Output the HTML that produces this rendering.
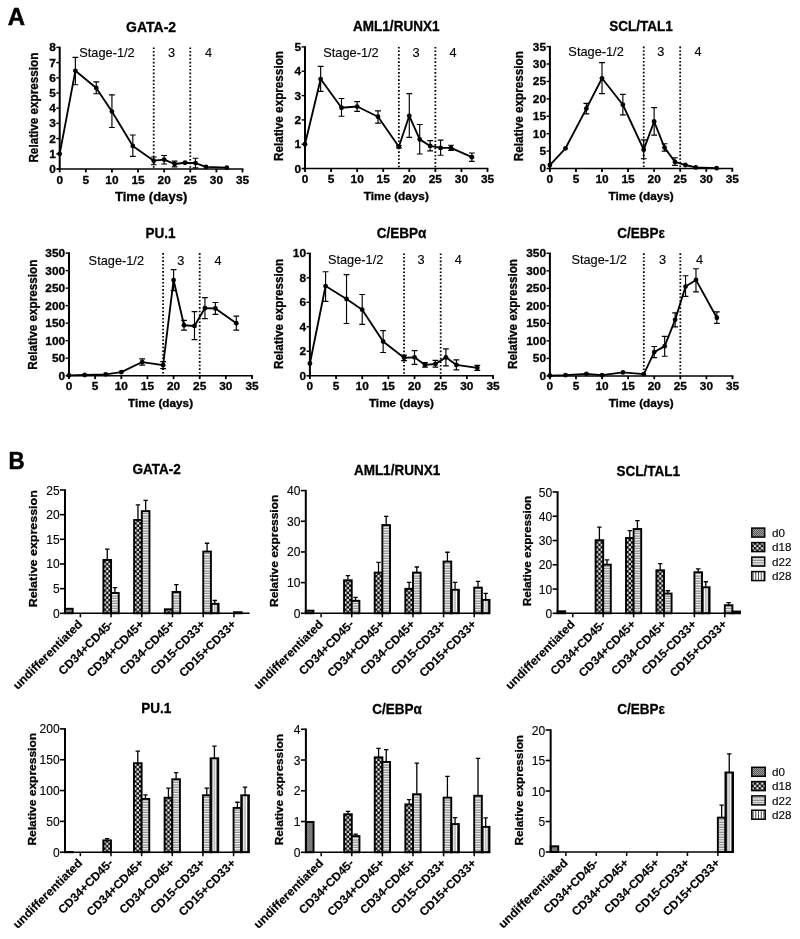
<!DOCTYPE html>
<html><head><meta charset="utf-8"><title>Figure</title>
<style>html,body{margin:0;padding:0;background:#fff}svg{display:block;will-change:transform;opacity:0.999}text{font-family:"Liberation Sans",sans-serif;fill:#000}</style>
</head><body>
<svg width="800" height="939" viewBox="0 0 800 939">
<defs>
<pattern id="p0" width="2" height="2" patternUnits="userSpaceOnUse"><rect width="2" height="2" fill="#9c9c9c"/><rect width="1" height="1" fill="#5a5a5a"/><rect x="1" y="1" width="1" height="1" fill="#5a5a5a"/></pattern>
<pattern id="p18" x="0.2" y="0" width="4.8" height="4.8" patternUnits="userSpaceOnUse"><rect width="4.8" height="4.8" fill="#000"/><rect x="2.5" y="0.1" width="2.2" height="2.2" fill="#fff"/><rect x="0.1" y="2.5" width="2.2" height="2.2" fill="#fff"/></pattern>
<pattern id="p22" width="2.5" height="2.5" patternUnits="userSpaceOnUse"><rect width="2.5" height="2.5" fill="#fff"/><rect y="0" width="2.5" height="0.6" fill="#555"/><rect y="1.5" width="2.5" height="1.0" fill="#c4c4c4"/></pattern>
<pattern id="p28" width="7.68" height="4" patternUnits="userSpaceOnUse"><rect width="7.68" height="4" fill="#fff"/><rect x="0" width="1.7" height="4" fill="#111"/><rect x="5.98" width="1.7" height="4" fill="#111"/><rect x="3.1" width="1.4" height="4" fill="#a8a8a8"/></pattern>
<pattern id="p28L" width="2.6" height="4" patternUnits="userSpaceOnUse"><rect width="2.6" height="4" fill="#fff"/><rect x="0" width="0.9" height="4" fill="#222"/></pattern>
</defs>
<rect width="800" height="939" fill="#fff"/>
<line x1="153.71" y1="47.40" x2="153.71" y2="169.00" stroke="#000" stroke-width="1.8" stroke-dasharray="1.6 2.0"/>
<line x1="190.27" y1="47.40" x2="190.27" y2="169.00" stroke="#000" stroke-width="1.8" stroke-dasharray="1.6 2.0"/>
<line x1="59.70" y1="46.65" x2="59.70" y2="169.75" stroke="#000" stroke-width="2.0"/>
<line x1="57.20" y1="169.00" x2="243.40" y2="169.00" stroke="#000" stroke-width="1.5"/>
<line x1="56.30" y1="169.00" x2="59.70" y2="169.00" stroke="#000" stroke-width="1.4"/>
<text transform="translate(55.80,172.95) scale(1.05,1)" font-size="11.3" font-weight="bold" text-anchor="end"  stroke="#000" stroke-width="0.3">0</text>
<line x1="56.30" y1="153.80" x2="59.70" y2="153.80" stroke="#000" stroke-width="1.4"/>
<text transform="translate(55.80,157.75) scale(1.05,1)" font-size="11.3" font-weight="bold" text-anchor="end"  stroke="#000" stroke-width="0.3">1</text>
<line x1="56.30" y1="138.60" x2="59.70" y2="138.60" stroke="#000" stroke-width="1.4"/>
<text transform="translate(55.80,142.55) scale(1.05,1)" font-size="11.3" font-weight="bold" text-anchor="end"  stroke="#000" stroke-width="0.3">2</text>
<line x1="56.30" y1="123.40" x2="59.70" y2="123.40" stroke="#000" stroke-width="1.4"/>
<text transform="translate(55.80,127.35) scale(1.05,1)" font-size="11.3" font-weight="bold" text-anchor="end"  stroke="#000" stroke-width="0.3">3</text>
<line x1="56.30" y1="108.20" x2="59.70" y2="108.20" stroke="#000" stroke-width="1.4"/>
<text transform="translate(55.80,112.15) scale(1.05,1)" font-size="11.3" font-weight="bold" text-anchor="end"  stroke="#000" stroke-width="0.3">4</text>
<line x1="56.30" y1="93.00" x2="59.70" y2="93.00" stroke="#000" stroke-width="1.4"/>
<text transform="translate(55.80,96.95) scale(1.05,1)" font-size="11.3" font-weight="bold" text-anchor="end"  stroke="#000" stroke-width="0.3">5</text>
<line x1="56.30" y1="77.80" x2="59.70" y2="77.80" stroke="#000" stroke-width="1.4"/>
<text transform="translate(55.80,81.75) scale(1.05,1)" font-size="11.3" font-weight="bold" text-anchor="end"  stroke="#000" stroke-width="0.3">6</text>
<line x1="56.30" y1="62.60" x2="59.70" y2="62.60" stroke="#000" stroke-width="1.4"/>
<text transform="translate(55.80,66.55) scale(1.05,1)" font-size="11.3" font-weight="bold" text-anchor="end"  stroke="#000" stroke-width="0.3">7</text>
<line x1="56.30" y1="47.40" x2="59.70" y2="47.40" stroke="#000" stroke-width="1.4"/>
<text transform="translate(55.80,51.35) scale(1.05,1)" font-size="11.3" font-weight="bold" text-anchor="end"  stroke="#000" stroke-width="0.3">8</text>
<line x1="59.70" y1="169.00" x2="59.70" y2="172.40" stroke="#000" stroke-width="1.8"/>
<text transform="translate(59.70,184.10) scale(1.05,1)" font-size="11.3" font-weight="bold" text-anchor="middle"  stroke="#000" stroke-width="0.3">0</text>
<line x1="85.81" y1="169.00" x2="85.81" y2="172.40" stroke="#000" stroke-width="1.8"/>
<text transform="translate(85.81,184.10) scale(1.05,1)" font-size="11.3" font-weight="bold" text-anchor="middle"  stroke="#000" stroke-width="0.3">5</text>
<line x1="111.93" y1="169.00" x2="111.93" y2="172.40" stroke="#000" stroke-width="1.8"/>
<text transform="translate(111.93,184.10) scale(1.05,1)" font-size="11.3" font-weight="bold" text-anchor="middle"  stroke="#000" stroke-width="0.3">10</text>
<line x1="138.04" y1="169.00" x2="138.04" y2="172.40" stroke="#000" stroke-width="1.8"/>
<text transform="translate(138.04,184.10) scale(1.05,1)" font-size="11.3" font-weight="bold" text-anchor="middle"  stroke="#000" stroke-width="0.3">15</text>
<line x1="164.16" y1="169.00" x2="164.16" y2="172.40" stroke="#000" stroke-width="1.8"/>
<text transform="translate(164.16,184.10) scale(1.05,1)" font-size="11.3" font-weight="bold" text-anchor="middle"  stroke="#000" stroke-width="0.3">20</text>
<line x1="190.27" y1="169.00" x2="190.27" y2="172.40" stroke="#000" stroke-width="1.8"/>
<text transform="translate(190.27,184.10) scale(1.05,1)" font-size="11.3" font-weight="bold" text-anchor="middle"  stroke="#000" stroke-width="0.3">25</text>
<line x1="216.39" y1="169.00" x2="216.39" y2="172.40" stroke="#000" stroke-width="1.8"/>
<text transform="translate(216.39,184.10) scale(1.05,1)" font-size="11.3" font-weight="bold" text-anchor="middle"  stroke="#000" stroke-width="0.3">30</text>
<line x1="242.50" y1="169.00" x2="242.50" y2="172.40" stroke="#000" stroke-width="1.8"/>
<text transform="translate(242.50,184.10) scale(1.05,1)" font-size="11.3" font-weight="bold" text-anchor="middle"  stroke="#000" stroke-width="0.3">35</text>
<text transform="translate(151.10,201.05) scale(1.062,1)" font-size="12.3" font-weight="bold" text-anchor="middle"  stroke="#000" stroke-width="0.3">Time (days)</text>
<text transform="translate(151.10,31.90)" font-size="14.0" font-weight="bold" text-anchor="middle"  stroke="#000" stroke-width="0.3">GATA-2</text>
<text transform="translate(37.70,107.60) rotate(-90) scale(0.985,1)" font-size="11.9" font-weight="bold" text-anchor="middle"  stroke="#000" stroke-width="0.3">Relative expression</text>
<text transform="translate(106.97,57.00) scale(1.04,1)" font-size="12.3"  text-anchor="middle"  stroke="#000" stroke-width="0.12">Stage-1/2</text>
<text transform="translate(171.47,57.00) scale(1.04,1)" font-size="12.3"  text-anchor="middle"  stroke="#000" stroke-width="0.12">3</text>
<text transform="translate(208.55,57.00) scale(1.04,1)" font-size="12.3"  text-anchor="middle"  stroke="#000" stroke-width="0.12">4</text>
<path d="M75.37 84.79V57.43M72.47 84.79h5.8M72.47 57.43h5.8" stroke="#000" stroke-width="1.15" fill="none"/>
<path d="M96.26 93.76V81.90M93.36 93.76h5.8M93.36 81.90h5.8" stroke="#000" stroke-width="1.15" fill="none"/>
<path d="M111.93 127.50V94.82M109.03 127.50h5.8M109.03 94.82h5.8" stroke="#000" stroke-width="1.15" fill="none"/>
<path d="M132.82 156.38V134.95M129.92 156.38h5.8M129.92 134.95h5.8" stroke="#000" stroke-width="1.15" fill="none"/>
<path d="M153.71 164.74V156.99M150.81 164.74h5.8M150.81 156.99h5.8" stroke="#000" stroke-width="1.15" fill="none"/>
<path d="M164.16 163.98V155.47M161.26 163.98h5.8M161.26 155.47h5.8" stroke="#000" stroke-width="1.15" fill="none"/>
<path d="M174.60 166.87V161.10M171.70 166.87h5.8M171.70 161.10h5.8" stroke="#000" stroke-width="1.15" fill="none"/>
<path d="M195.49 167.94V158.21M192.59 167.94h5.8M192.59 158.21h5.8" stroke="#000" stroke-width="1.15" fill="none"/>
<polyline points="59.70,153.80 75.37,70.81 96.26,87.98 111.93,111.54 132.82,145.90 153.71,160.64 164.16,159.58 174.60,163.98 185.05,162.77 195.49,163.07 205.94,166.87 226.83,167.63" fill="none" stroke="#000" stroke-width="1.85" stroke-linejoin="round"/>
<circle cx="59.70" cy="153.80" r="2.4" fill="#000"/>
<circle cx="75.37" cy="70.81" r="2.4" fill="#000"/>
<circle cx="96.26" cy="87.98" r="2.4" fill="#000"/>
<circle cx="111.93" cy="111.54" r="2.4" fill="#000"/>
<circle cx="132.82" cy="145.90" r="2.4" fill="#000"/>
<circle cx="153.71" cy="160.64" r="2.4" fill="#000"/>
<circle cx="164.16" cy="159.58" r="2.4" fill="#000"/>
<circle cx="174.60" cy="163.98" r="2.4" fill="#000"/>
<circle cx="185.05" cy="162.77" r="2.4" fill="#000"/>
<circle cx="195.49" cy="163.07" r="2.4" fill="#000"/>
<circle cx="205.94" cy="166.87" r="2.4" fill="#000"/>
<circle cx="226.83" cy="167.63" r="2.4" fill="#000"/>
<line x1="398.86" y1="46.90" x2="398.86" y2="168.60" stroke="#000" stroke-width="1.8" stroke-dasharray="1.6 2.0"/>
<line x1="435.36" y1="46.90" x2="435.36" y2="168.60" stroke="#000" stroke-width="1.8" stroke-dasharray="1.6 2.0"/>
<line x1="305.00" y1="46.15" x2="305.00" y2="169.35" stroke="#000" stroke-width="2.0"/>
<line x1="302.50" y1="168.60" x2="488.40" y2="168.60" stroke="#000" stroke-width="1.5"/>
<line x1="301.60" y1="168.60" x2="305.00" y2="168.60" stroke="#000" stroke-width="1.4"/>
<text transform="translate(301.10,172.55) scale(1.05,1)" font-size="11.3" font-weight="bold" text-anchor="end"  stroke="#000" stroke-width="0.3">0</text>
<line x1="301.60" y1="144.26" x2="305.00" y2="144.26" stroke="#000" stroke-width="1.4"/>
<text transform="translate(301.10,148.21) scale(1.05,1)" font-size="11.3" font-weight="bold" text-anchor="end"  stroke="#000" stroke-width="0.3">1</text>
<line x1="301.60" y1="119.92" x2="305.00" y2="119.92" stroke="#000" stroke-width="1.4"/>
<text transform="translate(301.10,123.87) scale(1.05,1)" font-size="11.3" font-weight="bold" text-anchor="end"  stroke="#000" stroke-width="0.3">2</text>
<line x1="301.60" y1="95.58" x2="305.00" y2="95.58" stroke="#000" stroke-width="1.4"/>
<text transform="translate(301.10,99.53) scale(1.05,1)" font-size="11.3" font-weight="bold" text-anchor="end"  stroke="#000" stroke-width="0.3">3</text>
<line x1="301.60" y1="71.24" x2="305.00" y2="71.24" stroke="#000" stroke-width="1.4"/>
<text transform="translate(301.10,75.19) scale(1.05,1)" font-size="11.3" font-weight="bold" text-anchor="end"  stroke="#000" stroke-width="0.3">4</text>
<line x1="301.60" y1="46.90" x2="305.00" y2="46.90" stroke="#000" stroke-width="1.4"/>
<text transform="translate(301.10,50.85) scale(1.05,1)" font-size="11.3" font-weight="bold" text-anchor="end"  stroke="#000" stroke-width="0.3">5</text>
<line x1="305.00" y1="168.60" x2="305.00" y2="172.00" stroke="#000" stroke-width="1.8"/>
<text transform="translate(305.00,182.90) scale(1.05,1)" font-size="11.3" font-weight="bold" text-anchor="middle"  stroke="#000" stroke-width="0.3">0</text>
<line x1="331.07" y1="168.60" x2="331.07" y2="172.00" stroke="#000" stroke-width="1.8"/>
<text transform="translate(331.07,182.90) scale(1.05,1)" font-size="11.3" font-weight="bold" text-anchor="middle"  stroke="#000" stroke-width="0.3">5</text>
<line x1="357.14" y1="168.60" x2="357.14" y2="172.00" stroke="#000" stroke-width="1.8"/>
<text transform="translate(357.14,182.90) scale(1.05,1)" font-size="11.3" font-weight="bold" text-anchor="middle"  stroke="#000" stroke-width="0.3">10</text>
<line x1="383.21" y1="168.60" x2="383.21" y2="172.00" stroke="#000" stroke-width="1.8"/>
<text transform="translate(383.21,182.90) scale(1.05,1)" font-size="11.3" font-weight="bold" text-anchor="middle"  stroke="#000" stroke-width="0.3">15</text>
<line x1="409.29" y1="168.60" x2="409.29" y2="172.00" stroke="#000" stroke-width="1.8"/>
<text transform="translate(409.29,182.90) scale(1.05,1)" font-size="11.3" font-weight="bold" text-anchor="middle"  stroke="#000" stroke-width="0.3">20</text>
<line x1="435.36" y1="168.60" x2="435.36" y2="172.00" stroke="#000" stroke-width="1.8"/>
<text transform="translate(435.36,182.90) scale(1.05,1)" font-size="11.3" font-weight="bold" text-anchor="middle"  stroke="#000" stroke-width="0.3">25</text>
<line x1="461.43" y1="168.60" x2="461.43" y2="172.00" stroke="#000" stroke-width="1.8"/>
<text transform="translate(461.43,182.90) scale(1.05,1)" font-size="11.3" font-weight="bold" text-anchor="middle"  stroke="#000" stroke-width="0.3">30</text>
<line x1="487.50" y1="168.60" x2="487.50" y2="172.00" stroke="#000" stroke-width="1.8"/>
<text transform="translate(487.50,182.90) scale(1.05,1)" font-size="11.3" font-weight="bold" text-anchor="middle"  stroke="#000" stroke-width="0.3">35</text>
<text transform="translate(396.25,199.80) scale(1.08,1)" font-size="10.9" font-weight="bold" text-anchor="middle"  stroke="#000" stroke-width="0.3">Time (days)</text>
<text transform="translate(396.25,31.40) scale(0.965,1)" font-size="14.0" font-weight="bold" text-anchor="middle"  stroke="#000" stroke-width="0.3">AML1/RUNX1</text>
<text transform="translate(283.00,106.05) rotate(-90) scale(0.985,1)" font-size="11.9" font-weight="bold" text-anchor="middle"  stroke="#000" stroke-width="0.3">Relative expression</text>
<text transform="translate(350.99,56.70) scale(1.04,1)" font-size="12.3"  text-anchor="middle"  stroke="#000" stroke-width="0.12">Stage-1/2</text>
<text transform="translate(415.99,56.70) scale(1.04,1)" font-size="12.3"  text-anchor="middle"  stroke="#000" stroke-width="0.12">3</text>
<text transform="translate(453.01,56.70) scale(1.04,1)" font-size="12.3"  text-anchor="middle"  stroke="#000" stroke-width="0.12">4</text>
<path d="M320.64 91.44V66.37M317.74 91.44h5.8M317.74 66.37h5.8" stroke="#000" stroke-width="1.15" fill="none"/>
<path d="M341.50 116.27V98.50M338.60 116.27h5.8M338.60 98.50h5.8" stroke="#000" stroke-width="1.15" fill="none"/>
<path d="M357.14 111.40V101.67M354.24 111.40h5.8M354.24 101.67h5.8" stroke="#000" stroke-width="1.15" fill="none"/>
<path d="M378.00 123.08V110.91M375.10 123.08h5.8M375.10 110.91h5.8" stroke="#000" stroke-width="1.15" fill="none"/>
<path d="M398.86 147.91V145.48M395.96 147.91h5.8M395.96 145.48h5.8" stroke="#000" stroke-width="1.15" fill="none"/>
<path d="M409.29 137.44V93.63M406.39 137.44h5.8M406.39 93.63h5.8" stroke="#000" stroke-width="1.15" fill="none"/>
<path d="M419.71 154.00V124.54M416.81 154.00h5.8M416.81 124.54h5.8" stroke="#000" stroke-width="1.15" fill="none"/>
<path d="M430.14 150.83V140.61M427.24 150.83h5.8M427.24 140.61h5.8" stroke="#000" stroke-width="1.15" fill="none"/>
<path d="M440.57 155.21V140.12M437.67 155.21h5.8M437.67 140.12h5.8" stroke="#000" stroke-width="1.15" fill="none"/>
<path d="M451.00 150.34V145.23M448.10 150.34h5.8M448.10 145.23h5.8" stroke="#000" stroke-width="1.15" fill="none"/>
<path d="M471.86 161.30V153.02M468.96 161.30h5.8M468.96 153.02h5.8" stroke="#000" stroke-width="1.15" fill="none"/>
<polyline points="305.00,144.26 320.64,79.03 341.50,107.75 357.14,106.53 378.00,116.76 398.86,146.69 409.29,115.78 419.71,139.39 430.14,145.96 440.57,147.91 451.00,147.91 471.86,157.16" fill="none" stroke="#000" stroke-width="1.85" stroke-linejoin="round"/>
<circle cx="305.00" cy="144.26" r="2.4" fill="#000"/>
<circle cx="320.64" cy="79.03" r="2.4" fill="#000"/>
<circle cx="341.50" cy="107.75" r="2.4" fill="#000"/>
<circle cx="357.14" cy="106.53" r="2.4" fill="#000"/>
<circle cx="378.00" cy="116.76" r="2.4" fill="#000"/>
<circle cx="398.86" cy="146.69" r="2.4" fill="#000"/>
<circle cx="409.29" cy="115.78" r="2.4" fill="#000"/>
<circle cx="419.71" cy="139.39" r="2.4" fill="#000"/>
<circle cx="430.14" cy="145.96" r="2.4" fill="#000"/>
<circle cx="440.57" cy="147.91" r="2.4" fill="#000"/>
<circle cx="451.00" cy="147.91" r="2.4" fill="#000"/>
<circle cx="471.86" cy="157.16" r="2.4" fill="#000"/>
<line x1="643.71" y1="46.60" x2="643.71" y2="168.50" stroke="#000" stroke-width="1.8" stroke-dasharray="1.6 2.0"/>
<line x1="680.19" y1="46.60" x2="680.19" y2="168.50" stroke="#000" stroke-width="1.8" stroke-dasharray="1.6 2.0"/>
<line x1="549.90" y1="45.85" x2="549.90" y2="169.25" stroke="#000" stroke-width="2.0"/>
<line x1="547.40" y1="168.50" x2="733.20" y2="168.50" stroke="#000" stroke-width="1.5"/>
<line x1="546.50" y1="168.50" x2="549.90" y2="168.50" stroke="#000" stroke-width="1.4"/>
<text transform="translate(546.00,172.45) scale(1.05,1)" font-size="11.3" font-weight="bold" text-anchor="end"  stroke="#000" stroke-width="0.3">0</text>
<line x1="546.50" y1="151.09" x2="549.90" y2="151.09" stroke="#000" stroke-width="1.4"/>
<text transform="translate(546.00,155.04) scale(1.05,1)" font-size="11.3" font-weight="bold" text-anchor="end"  stroke="#000" stroke-width="0.3">5</text>
<line x1="546.50" y1="133.67" x2="549.90" y2="133.67" stroke="#000" stroke-width="1.4"/>
<text transform="translate(546.00,137.62) scale(1.05,1)" font-size="11.3" font-weight="bold" text-anchor="end"  stroke="#000" stroke-width="0.3">10</text>
<line x1="546.50" y1="116.26" x2="549.90" y2="116.26" stroke="#000" stroke-width="1.4"/>
<text transform="translate(546.00,120.21) scale(1.05,1)" font-size="11.3" font-weight="bold" text-anchor="end"  stroke="#000" stroke-width="0.3">15</text>
<line x1="546.50" y1="98.84" x2="549.90" y2="98.84" stroke="#000" stroke-width="1.4"/>
<text transform="translate(546.00,102.79) scale(1.05,1)" font-size="11.3" font-weight="bold" text-anchor="end"  stroke="#000" stroke-width="0.3">20</text>
<line x1="546.50" y1="81.43" x2="549.90" y2="81.43" stroke="#000" stroke-width="1.4"/>
<text transform="translate(546.00,85.38) scale(1.05,1)" font-size="11.3" font-weight="bold" text-anchor="end"  stroke="#000" stroke-width="0.3">25</text>
<line x1="546.50" y1="64.01" x2="549.90" y2="64.01" stroke="#000" stroke-width="1.4"/>
<text transform="translate(546.00,67.96) scale(1.05,1)" font-size="11.3" font-weight="bold" text-anchor="end"  stroke="#000" stroke-width="0.3">30</text>
<line x1="546.50" y1="46.60" x2="549.90" y2="46.60" stroke="#000" stroke-width="1.4"/>
<text transform="translate(546.00,50.55) scale(1.05,1)" font-size="11.3" font-weight="bold" text-anchor="end"  stroke="#000" stroke-width="0.3">35</text>
<line x1="549.90" y1="168.50" x2="549.90" y2="171.90" stroke="#000" stroke-width="1.8"/>
<text transform="translate(549.90,182.80) scale(1.05,1)" font-size="11.3" font-weight="bold" text-anchor="middle"  stroke="#000" stroke-width="0.3">0</text>
<line x1="575.96" y1="168.50" x2="575.96" y2="171.90" stroke="#000" stroke-width="1.8"/>
<text transform="translate(575.96,182.80) scale(1.05,1)" font-size="11.3" font-weight="bold" text-anchor="middle"  stroke="#000" stroke-width="0.3">5</text>
<line x1="602.01" y1="168.50" x2="602.01" y2="171.90" stroke="#000" stroke-width="1.8"/>
<text transform="translate(602.01,182.80) scale(1.05,1)" font-size="11.3" font-weight="bold" text-anchor="middle"  stroke="#000" stroke-width="0.3">10</text>
<line x1="628.07" y1="168.50" x2="628.07" y2="171.90" stroke="#000" stroke-width="1.8"/>
<text transform="translate(628.07,182.80) scale(1.05,1)" font-size="11.3" font-weight="bold" text-anchor="middle"  stroke="#000" stroke-width="0.3">15</text>
<line x1="654.13" y1="168.50" x2="654.13" y2="171.90" stroke="#000" stroke-width="1.8"/>
<text transform="translate(654.13,182.80) scale(1.05,1)" font-size="11.3" font-weight="bold" text-anchor="middle"  stroke="#000" stroke-width="0.3">20</text>
<line x1="680.19" y1="168.50" x2="680.19" y2="171.90" stroke="#000" stroke-width="1.8"/>
<text transform="translate(680.19,182.80) scale(1.05,1)" font-size="11.3" font-weight="bold" text-anchor="middle"  stroke="#000" stroke-width="0.3">25</text>
<line x1="706.24" y1="168.50" x2="706.24" y2="171.90" stroke="#000" stroke-width="1.8"/>
<text transform="translate(706.24,182.80) scale(1.05,1)" font-size="11.3" font-weight="bold" text-anchor="middle"  stroke="#000" stroke-width="0.3">30</text>
<line x1="732.30" y1="168.50" x2="732.30" y2="171.90" stroke="#000" stroke-width="1.8"/>
<text transform="translate(732.30,182.80) scale(1.05,1)" font-size="11.3" font-weight="bold" text-anchor="middle"  stroke="#000" stroke-width="0.3">35</text>
<text transform="translate(641.10,199.70) scale(1.08,1)" font-size="10.9" font-weight="bold" text-anchor="middle"  stroke="#000" stroke-width="0.3">Time (days)</text>
<text transform="translate(641.10,31.10) scale(0.965,1)" font-size="14.0" font-weight="bold" text-anchor="middle"  stroke="#000" stroke-width="0.3">SCL/TAL1</text>
<text transform="translate(522.70,106.15) rotate(-90) scale(0.985,1)" font-size="11.9" font-weight="bold" text-anchor="middle"  stroke="#000" stroke-width="0.3">Relative expression</text>
<text transform="translate(596.06,56.20) scale(1.04,1)" font-size="12.3"  text-anchor="middle"  stroke="#000" stroke-width="0.12">Stage-1/2</text>
<text transform="translate(660.92,56.20) scale(1.04,1)" font-size="12.3"  text-anchor="middle"  stroke="#000" stroke-width="0.12">3</text>
<text transform="translate(697.93,56.20) scale(1.04,1)" font-size="12.3"  text-anchor="middle"  stroke="#000" stroke-width="0.12">4</text>
<path d="M586.38 113.82V103.37M583.48 113.82h5.8M583.48 103.37h5.8" stroke="#000" stroke-width="1.15" fill="none"/>
<path d="M602.01 93.62V62.62M599.11 93.62h5.8M599.11 62.62h5.8" stroke="#000" stroke-width="1.15" fill="none"/>
<path d="M622.86 114.86V94.32M619.96 114.86h5.8M619.96 94.32h5.8" stroke="#000" stroke-width="1.15" fill="none"/>
<path d="M643.71 158.75V139.94M640.81 158.75h5.8M640.81 139.94h5.8" stroke="#000" stroke-width="1.15" fill="none"/>
<path d="M654.13 135.06V107.55M651.23 135.06h5.8M651.23 107.55h5.8" stroke="#000" stroke-width="1.15" fill="none"/>
<path d="M664.55 151.09V143.77M661.65 151.09h5.8M661.65 143.77h5.8" stroke="#000" stroke-width="1.15" fill="none"/>
<path d="M674.97 165.37V157.70M672.07 165.37h5.8M672.07 157.70h5.8" stroke="#000" stroke-width="1.15" fill="none"/>
<polyline points="549.90,165.02 565.53,148.30 586.38,108.59 602.01,78.29 622.86,104.76 643.71,149.69 654.13,121.48 664.55,147.60 674.97,161.88 685.40,165.02 695.82,167.46 716.67,168.15" fill="none" stroke="#000" stroke-width="1.85" stroke-linejoin="round"/>
<circle cx="549.90" cy="165.02" r="2.4" fill="#000"/>
<circle cx="565.53" cy="148.30" r="2.4" fill="#000"/>
<circle cx="586.38" cy="108.59" r="2.4" fill="#000"/>
<circle cx="602.01" cy="78.29" r="2.4" fill="#000"/>
<circle cx="622.86" cy="104.76" r="2.4" fill="#000"/>
<circle cx="643.71" cy="149.69" r="2.4" fill="#000"/>
<circle cx="654.13" cy="121.48" r="2.4" fill="#000"/>
<circle cx="664.55" cy="147.60" r="2.4" fill="#000"/>
<circle cx="674.97" cy="161.88" r="2.4" fill="#000"/>
<circle cx="685.40" cy="165.02" r="2.4" fill="#000"/>
<circle cx="695.82" cy="167.46" r="2.4" fill="#000"/>
<circle cx="716.67" cy="168.15" r="2.4" fill="#000"/>
<line x1="163.11" y1="253.10" x2="163.11" y2="375.70" stroke="#000" stroke-width="1.8" stroke-dasharray="1.6 2.0"/>
<line x1="199.71" y1="253.10" x2="199.71" y2="375.70" stroke="#000" stroke-width="1.8" stroke-dasharray="1.6 2.0"/>
<line x1="69.00" y1="252.35" x2="69.00" y2="376.45" stroke="#000" stroke-width="2.0"/>
<line x1="66.50" y1="375.70" x2="252.90" y2="375.70" stroke="#000" stroke-width="1.5"/>
<line x1="65.60" y1="375.70" x2="69.00" y2="375.70" stroke="#000" stroke-width="1.4"/>
<text transform="translate(65.10,379.65) scale(1.05,1)" font-size="11.3" font-weight="bold" text-anchor="end"  stroke="#000" stroke-width="0.3">0</text>
<line x1="65.60" y1="358.19" x2="69.00" y2="358.19" stroke="#000" stroke-width="1.4"/>
<text transform="translate(65.10,362.14) scale(1.05,1)" font-size="11.3" font-weight="bold" text-anchor="end"  stroke="#000" stroke-width="0.3">50</text>
<line x1="65.60" y1="340.67" x2="69.00" y2="340.67" stroke="#000" stroke-width="1.4"/>
<text transform="translate(65.10,344.62) scale(1.05,1)" font-size="11.3" font-weight="bold" text-anchor="end"  stroke="#000" stroke-width="0.3">100</text>
<line x1="65.60" y1="323.16" x2="69.00" y2="323.16" stroke="#000" stroke-width="1.4"/>
<text transform="translate(65.10,327.11) scale(1.05,1)" font-size="11.3" font-weight="bold" text-anchor="end"  stroke="#000" stroke-width="0.3">150</text>
<line x1="65.60" y1="305.64" x2="69.00" y2="305.64" stroke="#000" stroke-width="1.4"/>
<text transform="translate(65.10,309.59) scale(1.05,1)" font-size="11.3" font-weight="bold" text-anchor="end"  stroke="#000" stroke-width="0.3">200</text>
<line x1="65.60" y1="288.13" x2="69.00" y2="288.13" stroke="#000" stroke-width="1.4"/>
<text transform="translate(65.10,292.08) scale(1.05,1)" font-size="11.3" font-weight="bold" text-anchor="end"  stroke="#000" stroke-width="0.3">250</text>
<line x1="65.60" y1="270.61" x2="69.00" y2="270.61" stroke="#000" stroke-width="1.4"/>
<text transform="translate(65.10,274.56) scale(1.05,1)" font-size="11.3" font-weight="bold" text-anchor="end"  stroke="#000" stroke-width="0.3">300</text>
<line x1="65.60" y1="253.10" x2="69.00" y2="253.10" stroke="#000" stroke-width="1.4"/>
<text transform="translate(65.10,257.05) scale(1.05,1)" font-size="11.3" font-weight="bold" text-anchor="end"  stroke="#000" stroke-width="0.3">350</text>
<line x1="69.00" y1="375.70" x2="69.00" y2="379.10" stroke="#000" stroke-width="1.8"/>
<text transform="translate(69.00,390.00) scale(1.05,1)" font-size="11.3" font-weight="bold" text-anchor="middle"  stroke="#000" stroke-width="0.3">0</text>
<line x1="95.14" y1="375.70" x2="95.14" y2="379.10" stroke="#000" stroke-width="1.8"/>
<text transform="translate(95.14,390.00) scale(1.05,1)" font-size="11.3" font-weight="bold" text-anchor="middle"  stroke="#000" stroke-width="0.3">5</text>
<line x1="121.29" y1="375.70" x2="121.29" y2="379.10" stroke="#000" stroke-width="1.8"/>
<text transform="translate(121.29,390.00) scale(1.05,1)" font-size="11.3" font-weight="bold" text-anchor="middle"  stroke="#000" stroke-width="0.3">10</text>
<line x1="147.43" y1="375.70" x2="147.43" y2="379.10" stroke="#000" stroke-width="1.8"/>
<text transform="translate(147.43,390.00) scale(1.05,1)" font-size="11.3" font-weight="bold" text-anchor="middle"  stroke="#000" stroke-width="0.3">15</text>
<line x1="173.57" y1="375.70" x2="173.57" y2="379.10" stroke="#000" stroke-width="1.8"/>
<text transform="translate(173.57,390.00) scale(1.05,1)" font-size="11.3" font-weight="bold" text-anchor="middle"  stroke="#000" stroke-width="0.3">20</text>
<line x1="199.71" y1="375.70" x2="199.71" y2="379.10" stroke="#000" stroke-width="1.8"/>
<text transform="translate(199.71,390.00) scale(1.05,1)" font-size="11.3" font-weight="bold" text-anchor="middle"  stroke="#000" stroke-width="0.3">25</text>
<line x1="225.86" y1="375.70" x2="225.86" y2="379.10" stroke="#000" stroke-width="1.8"/>
<text transform="translate(225.86,390.00) scale(1.05,1)" font-size="11.3" font-weight="bold" text-anchor="middle"  stroke="#000" stroke-width="0.3">30</text>
<line x1="252.00" y1="375.70" x2="252.00" y2="379.10" stroke="#000" stroke-width="1.8"/>
<text transform="translate(252.00,390.00) scale(1.05,1)" font-size="11.3" font-weight="bold" text-anchor="middle"  stroke="#000" stroke-width="0.3">35</text>
<text transform="translate(160.50,406.90) scale(1.08,1)" font-size="10.9" font-weight="bold" text-anchor="middle"  stroke="#000" stroke-width="0.3">Time (days)</text>
<text transform="translate(160.50,237.60) scale(0.965,1)" font-size="14.0" font-weight="bold" text-anchor="middle"  stroke="#000" stroke-width="0.3">PU.1</text>
<text transform="translate(37.30,314.70) rotate(-90) scale(0.985,1)" font-size="11.9" font-weight="bold" text-anchor="middle"  stroke="#000" stroke-width="0.3">Relative expression</text>
<text transform="translate(116.32,265.20) scale(1.04,1)" font-size="12.3"  text-anchor="middle"  stroke="#000" stroke-width="0.12">Stage-1/2</text>
<text transform="translate(180.89,265.20) scale(1.04,1)" font-size="12.3"  text-anchor="middle"  stroke="#000" stroke-width="0.12">3</text>
<text transform="translate(218.01,265.20) scale(1.04,1)" font-size="12.3"  text-anchor="middle"  stroke="#000" stroke-width="0.12">4</text>
<path d="M142.20 365.19V358.89M139.30 365.19h5.8M139.30 358.89h5.8" stroke="#000" stroke-width="1.15" fill="none"/>
<path d="M163.11 368.69V361.69M160.21 368.69h5.8M160.21 361.69h5.8" stroke="#000" stroke-width="1.15" fill="none"/>
<path d="M173.57 290.58V269.56M170.67 290.58h5.8M170.67 269.56h5.8" stroke="#000" stroke-width="1.15" fill="none"/>
<path d="M184.03 330.16V320.35M181.13 330.16h5.8M181.13 320.35h5.8" stroke="#000" stroke-width="1.15" fill="none"/>
<path d="M194.49 339.62V311.60M191.59 339.62h5.8M191.59 311.60h5.8" stroke="#000" stroke-width="1.15" fill="none"/>
<path d="M204.94 318.60V297.59M202.04 318.60h5.8M202.04 297.59h5.8" stroke="#000" stroke-width="1.15" fill="none"/>
<path d="M215.40 314.40V302.49M212.50 314.40h5.8M212.50 302.49h5.8" stroke="#000" stroke-width="1.15" fill="none"/>
<path d="M236.31 330.16V316.15M233.41 330.16h5.8M233.41 316.15h5.8" stroke="#000" stroke-width="1.15" fill="none"/>
<polyline points="69.00,375.35 84.69,375.00 105.60,374.30 121.29,372.20 142.20,362.04 163.11,365.19 173.57,280.07 184.03,325.26 194.49,325.96 204.94,308.09 215.40,308.45 236.31,323.16" fill="none" stroke="#000" stroke-width="1.85" stroke-linejoin="round"/>
<circle cx="69.00" cy="375.35" r="2.4" fill="#000"/>
<circle cx="84.69" cy="375.00" r="2.4" fill="#000"/>
<circle cx="105.60" cy="374.30" r="2.4" fill="#000"/>
<circle cx="121.29" cy="372.20" r="2.4" fill="#000"/>
<circle cx="142.20" cy="362.04" r="2.4" fill="#000"/>
<circle cx="163.11" cy="365.19" r="2.4" fill="#000"/>
<circle cx="173.57" cy="280.07" r="2.4" fill="#000"/>
<circle cx="184.03" cy="325.26" r="2.4" fill="#000"/>
<circle cx="194.49" cy="325.96" r="2.4" fill="#000"/>
<circle cx="204.94" cy="308.09" r="2.4" fill="#000"/>
<circle cx="215.40" cy="308.45" r="2.4" fill="#000"/>
<circle cx="236.31" cy="323.16" r="2.4" fill="#000"/>
<line x1="404.07" y1="253.40" x2="404.07" y2="375.70" stroke="#000" stroke-width="1.8" stroke-dasharray="1.6 2.0"/>
<line x1="440.69" y1="253.40" x2="440.69" y2="375.70" stroke="#000" stroke-width="1.8" stroke-dasharray="1.6 2.0"/>
<line x1="309.90" y1="252.65" x2="309.90" y2="376.45" stroke="#000" stroke-width="2.0"/>
<line x1="307.40" y1="375.70" x2="493.90" y2="375.70" stroke="#000" stroke-width="1.5"/>
<line x1="306.50" y1="375.70" x2="309.90" y2="375.70" stroke="#000" stroke-width="1.4"/>
<text transform="translate(306.00,379.65) scale(1.05,1)" font-size="11.3" font-weight="bold" text-anchor="end"  stroke="#000" stroke-width="0.3">0</text>
<line x1="306.50" y1="351.24" x2="309.90" y2="351.24" stroke="#000" stroke-width="1.4"/>
<text transform="translate(306.00,355.19) scale(1.05,1)" font-size="11.3" font-weight="bold" text-anchor="end"  stroke="#000" stroke-width="0.3">2</text>
<line x1="306.50" y1="326.78" x2="309.90" y2="326.78" stroke="#000" stroke-width="1.4"/>
<text transform="translate(306.00,330.73) scale(1.05,1)" font-size="11.3" font-weight="bold" text-anchor="end"  stroke="#000" stroke-width="0.3">4</text>
<line x1="306.50" y1="302.32" x2="309.90" y2="302.32" stroke="#000" stroke-width="1.4"/>
<text transform="translate(306.00,306.27) scale(1.05,1)" font-size="11.3" font-weight="bold" text-anchor="end"  stroke="#000" stroke-width="0.3">6</text>
<line x1="306.50" y1="277.86" x2="309.90" y2="277.86" stroke="#000" stroke-width="1.4"/>
<text transform="translate(306.00,281.81) scale(1.05,1)" font-size="11.3" font-weight="bold" text-anchor="end"  stroke="#000" stroke-width="0.3">8</text>
<line x1="306.50" y1="253.40" x2="309.90" y2="253.40" stroke="#000" stroke-width="1.4"/>
<text transform="translate(306.00,257.35) scale(1.05,1)" font-size="11.3" font-weight="bold" text-anchor="end"  stroke="#000" stroke-width="0.3">10</text>
<line x1="309.90" y1="375.70" x2="309.90" y2="379.10" stroke="#000" stroke-width="1.8"/>
<text transform="translate(309.90,390.00) scale(1.05,1)" font-size="11.3" font-weight="bold" text-anchor="middle"  stroke="#000" stroke-width="0.3">0</text>
<line x1="336.06" y1="375.70" x2="336.06" y2="379.10" stroke="#000" stroke-width="1.8"/>
<text transform="translate(336.06,390.00) scale(1.05,1)" font-size="11.3" font-weight="bold" text-anchor="middle"  stroke="#000" stroke-width="0.3">5</text>
<line x1="362.21" y1="375.70" x2="362.21" y2="379.10" stroke="#000" stroke-width="1.8"/>
<text transform="translate(362.21,390.00) scale(1.05,1)" font-size="11.3" font-weight="bold" text-anchor="middle"  stroke="#000" stroke-width="0.3">10</text>
<line x1="388.37" y1="375.70" x2="388.37" y2="379.10" stroke="#000" stroke-width="1.8"/>
<text transform="translate(388.37,390.00) scale(1.05,1)" font-size="11.3" font-weight="bold" text-anchor="middle"  stroke="#000" stroke-width="0.3">15</text>
<line x1="414.53" y1="375.70" x2="414.53" y2="379.10" stroke="#000" stroke-width="1.8"/>
<text transform="translate(414.53,390.00) scale(1.05,1)" font-size="11.3" font-weight="bold" text-anchor="middle"  stroke="#000" stroke-width="0.3">20</text>
<line x1="440.69" y1="375.70" x2="440.69" y2="379.10" stroke="#000" stroke-width="1.8"/>
<text transform="translate(440.69,390.00) scale(1.05,1)" font-size="11.3" font-weight="bold" text-anchor="middle"  stroke="#000" stroke-width="0.3">25</text>
<line x1="466.84" y1="375.70" x2="466.84" y2="379.10" stroke="#000" stroke-width="1.8"/>
<text transform="translate(466.84,390.00) scale(1.05,1)" font-size="11.3" font-weight="bold" text-anchor="middle"  stroke="#000" stroke-width="0.3">30</text>
<line x1="493.00" y1="375.70" x2="493.00" y2="379.10" stroke="#000" stroke-width="1.8"/>
<text transform="translate(493.00,390.00) scale(1.05,1)" font-size="11.3" font-weight="bold" text-anchor="middle"  stroke="#000" stroke-width="0.3">35</text>
<text transform="translate(401.45,406.90) scale(1.08,1)" font-size="10.9" font-weight="bold" text-anchor="middle"  stroke="#000" stroke-width="0.3">Time (days)</text>
<text transform="translate(401.45,237.90) scale(0.965,1)" font-size="14.0" font-weight="bold" text-anchor="middle"  stroke="#000" stroke-width="0.3">C/EBPα</text>
<text transform="translate(282.70,313.95) rotate(-90) scale(0.985,1)" font-size="11.9" font-weight="bold" text-anchor="middle"  stroke="#000" stroke-width="0.3">Relative expression</text>
<text transform="translate(355.64,264.40) scale(1.04,1)" font-size="12.3"  text-anchor="middle"  stroke="#000" stroke-width="0.12">Stage-1/2</text>
<text transform="translate(421.05,264.40) scale(1.04,1)" font-size="12.3"  text-anchor="middle"  stroke="#000" stroke-width="0.12">3</text>
<text transform="translate(458.20,264.40) scale(1.04,1)" font-size="12.3"  text-anchor="middle"  stroke="#000" stroke-width="0.12">4</text>
<path d="M325.59 301.34V271.75M322.69 301.34h5.8M322.69 271.75h5.8" stroke="#000" stroke-width="1.15" fill="none"/>
<path d="M346.52 323.48V274.56M343.62 323.48h5.8M343.62 274.56h5.8" stroke="#000" stroke-width="1.15" fill="none"/>
<path d="M362.21 324.33V294.49M359.31 324.33h5.8M359.31 294.49h5.8" stroke="#000" stroke-width="1.15" fill="none"/>
<path d="M383.14 352.46V330.69M380.24 352.46h5.8M380.24 330.69h5.8" stroke="#000" stroke-width="1.15" fill="none"/>
<path d="M404.07 360.66V355.15M401.17 360.66h5.8M401.17 355.15h5.8" stroke="#000" stroke-width="1.15" fill="none"/>
<path d="M414.53 364.33V350.63M411.63 364.33h5.8M411.63 350.63h5.8" stroke="#000" stroke-width="1.15" fill="none"/>
<path d="M424.99 367.14V362.61M422.09 367.14h5.8M422.09 362.61h5.8" stroke="#000" stroke-width="1.15" fill="none"/>
<path d="M435.45 367.14V360.41M432.55 367.14h5.8M432.55 360.41h5.8" stroke="#000" stroke-width="1.15" fill="none"/>
<path d="M445.92 365.92V348.92M443.02 365.92h5.8M443.02 348.92h5.8" stroke="#000" stroke-width="1.15" fill="none"/>
<path d="M456.38 369.83V359.80M453.48 369.83h5.8M453.48 359.80h5.8" stroke="#000" stroke-width="1.15" fill="none"/>
<path d="M477.31 370.44V365.30M474.41 370.44h5.8M474.41 365.30h5.8" stroke="#000" stroke-width="1.15" fill="none"/>
<polyline points="309.90,363.47 325.59,286.05 346.52,299.02 362.21,309.66 383.14,341.46 404.07,357.72 414.53,357.36 424.99,364.94 435.45,363.96 445.92,357.36 456.38,364.94 477.31,367.87" fill="none" stroke="#000" stroke-width="1.85" stroke-linejoin="round"/>
<circle cx="309.90" cy="363.47" r="2.4" fill="#000"/>
<circle cx="325.59" cy="286.05" r="2.4" fill="#000"/>
<circle cx="346.52" cy="299.02" r="2.4" fill="#000"/>
<circle cx="362.21" cy="309.66" r="2.4" fill="#000"/>
<circle cx="383.14" cy="341.46" r="2.4" fill="#000"/>
<circle cx="404.07" cy="357.72" r="2.4" fill="#000"/>
<circle cx="414.53" cy="357.36" r="2.4" fill="#000"/>
<circle cx="424.99" cy="364.94" r="2.4" fill="#000"/>
<circle cx="435.45" cy="363.96" r="2.4" fill="#000"/>
<circle cx="445.92" cy="357.36" r="2.4" fill="#000"/>
<circle cx="456.38" cy="364.94" r="2.4" fill="#000"/>
<circle cx="477.31" cy="367.87" r="2.4" fill="#000"/>
<line x1="643.81" y1="253.30" x2="643.81" y2="375.90" stroke="#000" stroke-width="1.8" stroke-dasharray="1.6 2.0"/>
<line x1="680.33" y1="253.30" x2="680.33" y2="375.90" stroke="#000" stroke-width="1.8" stroke-dasharray="1.6 2.0"/>
<line x1="549.90" y1="252.55" x2="549.90" y2="376.65" stroke="#000" stroke-width="2.0"/>
<line x1="547.40" y1="375.90" x2="733.40" y2="375.90" stroke="#000" stroke-width="1.5"/>
<line x1="546.50" y1="375.90" x2="549.90" y2="375.90" stroke="#000" stroke-width="1.4"/>
<text transform="translate(546.00,379.85) scale(1.05,1)" font-size="11.3" font-weight="bold" text-anchor="end"  stroke="#000" stroke-width="0.3">0</text>
<line x1="546.50" y1="358.39" x2="549.90" y2="358.39" stroke="#000" stroke-width="1.4"/>
<text transform="translate(546.00,362.34) scale(1.05,1)" font-size="11.3" font-weight="bold" text-anchor="end"  stroke="#000" stroke-width="0.3">50</text>
<line x1="546.50" y1="340.87" x2="549.90" y2="340.87" stroke="#000" stroke-width="1.4"/>
<text transform="translate(546.00,344.82) scale(1.05,1)" font-size="11.3" font-weight="bold" text-anchor="end"  stroke="#000" stroke-width="0.3">100</text>
<line x1="546.50" y1="323.36" x2="549.90" y2="323.36" stroke="#000" stroke-width="1.4"/>
<text transform="translate(546.00,327.31) scale(1.05,1)" font-size="11.3" font-weight="bold" text-anchor="end"  stroke="#000" stroke-width="0.3">150</text>
<line x1="546.50" y1="305.84" x2="549.90" y2="305.84" stroke="#000" stroke-width="1.4"/>
<text transform="translate(546.00,309.79) scale(1.05,1)" font-size="11.3" font-weight="bold" text-anchor="end"  stroke="#000" stroke-width="0.3">200</text>
<line x1="546.50" y1="288.33" x2="549.90" y2="288.33" stroke="#000" stroke-width="1.4"/>
<text transform="translate(546.00,292.28) scale(1.05,1)" font-size="11.3" font-weight="bold" text-anchor="end"  stroke="#000" stroke-width="0.3">250</text>
<line x1="546.50" y1="270.81" x2="549.90" y2="270.81" stroke="#000" stroke-width="1.4"/>
<text transform="translate(546.00,274.76) scale(1.05,1)" font-size="11.3" font-weight="bold" text-anchor="end"  stroke="#000" stroke-width="0.3">300</text>
<line x1="546.50" y1="253.30" x2="549.90" y2="253.30" stroke="#000" stroke-width="1.4"/>
<text transform="translate(546.00,257.25) scale(1.05,1)" font-size="11.3" font-weight="bold" text-anchor="end"  stroke="#000" stroke-width="0.3">350</text>
<line x1="549.90" y1="375.90" x2="549.90" y2="379.30" stroke="#000" stroke-width="1.8"/>
<text transform="translate(549.90,390.20) scale(1.05,1)" font-size="11.3" font-weight="bold" text-anchor="middle"  stroke="#000" stroke-width="0.3">0</text>
<line x1="575.99" y1="375.90" x2="575.99" y2="379.30" stroke="#000" stroke-width="1.8"/>
<text transform="translate(575.99,390.20) scale(1.05,1)" font-size="11.3" font-weight="bold" text-anchor="middle"  stroke="#000" stroke-width="0.3">5</text>
<line x1="602.07" y1="375.90" x2="602.07" y2="379.30" stroke="#000" stroke-width="1.8"/>
<text transform="translate(602.07,390.20) scale(1.05,1)" font-size="11.3" font-weight="bold" text-anchor="middle"  stroke="#000" stroke-width="0.3">10</text>
<line x1="628.16" y1="375.90" x2="628.16" y2="379.30" stroke="#000" stroke-width="1.8"/>
<text transform="translate(628.16,390.20) scale(1.05,1)" font-size="11.3" font-weight="bold" text-anchor="middle"  stroke="#000" stroke-width="0.3">15</text>
<line x1="654.24" y1="375.90" x2="654.24" y2="379.30" stroke="#000" stroke-width="1.8"/>
<text transform="translate(654.24,390.20) scale(1.05,1)" font-size="11.3" font-weight="bold" text-anchor="middle"  stroke="#000" stroke-width="0.3">20</text>
<line x1="680.33" y1="375.90" x2="680.33" y2="379.30" stroke="#000" stroke-width="1.8"/>
<text transform="translate(680.33,390.20) scale(1.05,1)" font-size="11.3" font-weight="bold" text-anchor="middle"  stroke="#000" stroke-width="0.3">25</text>
<line x1="706.41" y1="375.90" x2="706.41" y2="379.30" stroke="#000" stroke-width="1.8"/>
<text transform="translate(706.41,390.20) scale(1.05,1)" font-size="11.3" font-weight="bold" text-anchor="middle"  stroke="#000" stroke-width="0.3">30</text>
<line x1="732.50" y1="375.90" x2="732.50" y2="379.30" stroke="#000" stroke-width="1.8"/>
<text transform="translate(732.50,390.20) scale(1.05,1)" font-size="11.3" font-weight="bold" text-anchor="middle"  stroke="#000" stroke-width="0.3">35</text>
<text transform="translate(641.20,407.10) scale(1.08,1)" font-size="10.9" font-weight="bold" text-anchor="middle"  stroke="#000" stroke-width="0.3">Time (days)</text>
<text transform="translate(641.20,237.80) scale(0.965,1)" font-size="14.0" font-weight="bold" text-anchor="middle"  stroke="#000" stroke-width="0.3">C/EBPε</text>
<text transform="translate(517.20,314.00) rotate(-90) scale(0.985,1)" font-size="11.9" font-weight="bold" text-anchor="middle"  stroke="#000" stroke-width="0.3">Relative expression</text>
<text transform="translate(599.12,264.30) scale(1.04,1)" font-size="12.3"  text-anchor="middle"  stroke="#000" stroke-width="0.12">Stage-1/2</text>
<text transform="translate(662.55,264.30) scale(1.04,1)" font-size="12.3"  text-anchor="middle"  stroke="#000" stroke-width="0.12">3</text>
<text transform="translate(699.59,264.30) scale(1.04,1)" font-size="12.3"  text-anchor="middle"  stroke="#000" stroke-width="0.12">4</text>
<path d="M654.24 357.69V346.48M651.34 357.69h5.8M651.34 346.48h5.8" stroke="#000" stroke-width="1.15" fill="none"/>
<path d="M664.68 356.28V336.32M661.78 356.28h5.8M661.78 336.32h5.8" stroke="#000" stroke-width="1.15" fill="none"/>
<path d="M675.11 326.86V312.85M672.21 326.86h5.8M672.21 312.85h5.8" stroke="#000" stroke-width="1.15" fill="none"/>
<path d="M685.55 296.39V275.72M682.65 296.39h5.8M682.65 275.72h5.8" stroke="#000" stroke-width="1.15" fill="none"/>
<path d="M695.98 291.83V268.71M693.08 291.83h5.8M693.08 268.71h5.8" stroke="#000" stroke-width="1.15" fill="none"/>
<path d="M716.85 323.36V311.80M713.95 323.36h5.8M713.95 311.80h5.8" stroke="#000" stroke-width="1.15" fill="none"/>
<polyline points="549.90,375.55 565.55,375.20 586.42,373.80 602.07,375.20 622.94,372.40 643.81,374.15 654.24,352.08 664.68,346.13 675.11,319.85 685.55,286.58 695.98,279.92 716.85,317.75" fill="none" stroke="#000" stroke-width="1.85" stroke-linejoin="round"/>
<circle cx="549.90" cy="375.55" r="2.4" fill="#000"/>
<circle cx="565.55" cy="375.20" r="2.4" fill="#000"/>
<circle cx="586.42" cy="373.80" r="2.4" fill="#000"/>
<circle cx="602.07" cy="375.20" r="2.4" fill="#000"/>
<circle cx="622.94" cy="372.40" r="2.4" fill="#000"/>
<circle cx="643.81" cy="374.15" r="2.4" fill="#000"/>
<circle cx="654.24" cy="352.08" r="2.4" fill="#000"/>
<circle cx="664.68" cy="346.13" r="2.4" fill="#000"/>
<circle cx="675.11" cy="319.85" r="2.4" fill="#000"/>
<circle cx="685.55" cy="286.58" r="2.4" fill="#000"/>
<circle cx="695.98" cy="279.92" r="2.4" fill="#000"/>
<circle cx="716.85" cy="317.75" r="2.4" fill="#000"/>
<g transform="translate(65.00,613.30)"><rect x="0" y="-4.53" width="7.68" height="4.53" fill="url(#p0)" stroke="#000" stroke-width="1.9"/></g>
<path d="M107.24 559.54V549.18M105.04 549.18h4.4" stroke="#000" stroke-width="1.3" fill="none"/>
<g transform="translate(103.40,613.30)"><rect x="0" y="-53.36" width="7.68" height="53.36" fill="url(#p18)" stroke="#000" stroke-width="1.9"/></g>
<path d="M114.92 592.59V587.65M112.72 587.65h4.4" stroke="#000" stroke-width="1.3" fill="none"/>
<g transform="translate(111.08,613.30)"><rect x="0" y="-20.31" width="7.68" height="20.31" fill="url(#p22)" stroke="#000" stroke-width="1.9"/></g>
<path d="M137.96 519.59V504.80M135.76 504.80h4.4" stroke="#000" stroke-width="1.3" fill="none"/>
<g transform="translate(134.12,613.30)"><rect x="0" y="-93.31" width="7.68" height="93.31" fill="url(#p18)" stroke="#000" stroke-width="1.9"/></g>
<path d="M145.64 510.71V500.36M143.44 500.36h4.4" stroke="#000" stroke-width="1.3" fill="none"/>
<g transform="translate(141.80,613.30)"><rect x="0" y="-102.19" width="7.68" height="102.19" fill="url(#p22)" stroke="#000" stroke-width="1.9"/></g>
<g transform="translate(164.84,613.30)"><rect x="0" y="-4.04" width="7.68" height="4.04" fill="url(#p18)" stroke="#000" stroke-width="1.9"/></g>
<path d="M176.36 591.60V584.69M174.16 584.69h4.4" stroke="#000" stroke-width="1.3" fill="none"/>
<g transform="translate(172.52,613.30)"><rect x="0" y="-21.30" width="7.68" height="21.30" fill="url(#p22)" stroke="#000" stroke-width="1.9"/></g>
<path d="M207.08 551.16V543.27M204.88 543.27h4.4" stroke="#000" stroke-width="1.3" fill="none"/>
<g transform="translate(203.24,613.30)"><rect x="0" y="-61.74" width="7.68" height="61.74" fill="url(#p22)" stroke="#000" stroke-width="1.9"/></g>
<path d="M214.76 603.44V600.48M212.56 600.48h4.4" stroke="#000" stroke-width="1.3" fill="none"/>
<g transform="translate(210.92,613.30)"><rect x="0" y="-9.46" width="7.68" height="9.46" fill="url(#p28)" stroke="#000" stroke-width="1.9"/></g>
<g transform="translate(233.96,613.30)"><rect x="0" y="-1.08" width="7.68" height="1.08" fill="url(#p22)" stroke="#000" stroke-width="1.9"/></g>
<line x1="65.00" y1="489.25" x2="65.00" y2="614.05" stroke="#000" stroke-width="2.0"/>
<line x1="65.00" y1="613.30" x2="249.62" y2="613.30" stroke="#000" stroke-width="1.5"/>
<line x1="60.00" y1="613.30" x2="65.00" y2="613.30" stroke="#000" stroke-width="1.6"/>
<text transform="translate(59.60,617.80) scale(0.95,1)" font-size="12.7"  text-anchor="end"  stroke="#000" stroke-width="0.12">0</text>
<line x1="60.00" y1="588.64" x2="65.00" y2="588.64" stroke="#000" stroke-width="1.6"/>
<text transform="translate(59.60,593.14) scale(0.95,1)" font-size="12.7"  text-anchor="end"  stroke="#000" stroke-width="0.12">5</text>
<line x1="60.00" y1="563.98" x2="65.00" y2="563.98" stroke="#000" stroke-width="1.6"/>
<text transform="translate(59.60,568.48) scale(0.95,1)" font-size="12.7"  text-anchor="end"  stroke="#000" stroke-width="0.12">10</text>
<line x1="60.00" y1="539.32" x2="65.00" y2="539.32" stroke="#000" stroke-width="1.6"/>
<text transform="translate(59.60,543.82) scale(0.95,1)" font-size="12.7"  text-anchor="end"  stroke="#000" stroke-width="0.12">15</text>
<line x1="60.00" y1="514.66" x2="65.00" y2="514.66" stroke="#000" stroke-width="1.6"/>
<text transform="translate(59.60,519.16) scale(0.95,1)" font-size="12.7"  text-anchor="end"  stroke="#000" stroke-width="0.12">20</text>
<line x1="60.00" y1="490.00" x2="65.00" y2="490.00" stroke="#000" stroke-width="1.6"/>
<text transform="translate(59.60,494.50) scale(0.95,1)" font-size="12.7"  text-anchor="end"  stroke="#000" stroke-width="0.12">25</text>
<line x1="80.36" y1="613.30" x2="80.36" y2="617.30" stroke="#000" stroke-width="1.5"/>
<text transform="translate(83.16,624.90) rotate(-45) scale(1.03,1)" font-size="11.9" font-weight="bold" text-anchor="end" stroke="#000" stroke-width="0.15">undifferentiated</text>
<line x1="111.08" y1="613.30" x2="111.08" y2="617.30" stroke="#000" stroke-width="1.5"/>
<text transform="translate(113.88,624.90) rotate(-45) scale(1.00116,1)" font-size="11.9" font-weight="bold" text-anchor="end" stroke="#000" stroke-width="0.15">CD34+CD45-</text>
<line x1="141.80" y1="613.30" x2="141.80" y2="617.30" stroke="#000" stroke-width="1.5"/>
<text transform="translate(144.60,624.90) rotate(-45) scale(1.00116,1)" font-size="11.9" font-weight="bold" text-anchor="end" stroke="#000" stroke-width="0.15">CD34+CD45+</text>
<line x1="172.52" y1="613.30" x2="172.52" y2="617.30" stroke="#000" stroke-width="1.5"/>
<text transform="translate(175.32,624.90) rotate(-45) scale(1.00116,1)" font-size="11.9" font-weight="bold" text-anchor="end" stroke="#000" stroke-width="0.15">CD34-CD45+</text>
<line x1="203.24" y1="613.30" x2="203.24" y2="617.30" stroke="#000" stroke-width="1.5"/>
<text transform="translate(206.04,624.90) rotate(-45) scale(1.00116,1)" font-size="11.9" font-weight="bold" text-anchor="end" stroke="#000" stroke-width="0.15">CD15-CD33+</text>
<line x1="233.96" y1="613.30" x2="233.96" y2="617.30" stroke="#000" stroke-width="1.5"/>
<text transform="translate(236.76,624.90) rotate(-45) scale(1.00116,1)" font-size="11.9" font-weight="bold" text-anchor="end" stroke="#000" stroke-width="0.15">CD15+CD33+</text>
<text transform="translate(156.51,474.30) scale(0.965,1)" font-size="14.0" font-weight="bold" text-anchor="middle"  stroke="#000" stroke-width="0.3">GATA-2</text>
<text transform="translate(36.70,548.75) rotate(-90) scale(1.08,1)" font-size="11.55" font-weight="bold" text-anchor="middle"  stroke="#000" stroke-width="0.3">Relative expression</text>
<g transform="translate(305.80,613.30)"><rect x="0" y="-2.67" width="7.66" height="2.67" fill="url(#p0)" stroke="#000" stroke-width="1.9"/></g>
<path d="M347.90 579.86V575.57M345.70 575.57h4.4" stroke="#000" stroke-width="1.3" fill="none"/>
<g transform="translate(344.07,613.30)"><rect x="0" y="-33.04" width="7.66" height="33.04" fill="url(#p18)" stroke="#000" stroke-width="1.9"/></g>
<path d="M355.56 600.42V597.35M353.36 597.35h4.4" stroke="#000" stroke-width="1.3" fill="none"/>
<g transform="translate(351.73,613.30)"><rect x="0" y="-12.48" width="7.66" height="12.48" fill="url(#p22)" stroke="#000" stroke-width="1.9"/></g>
<path d="M378.52 572.20V562.38M376.32 562.38h4.4" stroke="#000" stroke-width="1.3" fill="none"/>
<g transform="translate(374.69,613.30)"><rect x="0" y="-40.70" width="7.66" height="40.70" fill="url(#p18)" stroke="#000" stroke-width="1.9"/></g>
<path d="M386.18 524.65V516.37M383.98 516.37h4.4" stroke="#000" stroke-width="1.3" fill="none"/>
<g transform="translate(382.35,613.30)"><rect x="0" y="-88.25" width="7.66" height="88.25" fill="url(#p22)" stroke="#000" stroke-width="1.9"/></g>
<path d="M409.14 588.45V582.32M406.94 582.32h4.4" stroke="#000" stroke-width="1.3" fill="none"/>
<g transform="translate(405.31,613.30)"><rect x="0" y="-24.45" width="7.66" height="24.45" fill="url(#p18)" stroke="#000" stroke-width="1.9"/></g>
<path d="M416.80 572.20V566.98M414.60 566.98h4.4" stroke="#000" stroke-width="1.3" fill="none"/>
<g transform="translate(412.97,613.30)"><rect x="0" y="-40.70" width="7.66" height="40.70" fill="url(#p22)" stroke="#000" stroke-width="1.9"/></g>
<path d="M447.42 561.15V552.26M445.22 552.26h4.4" stroke="#000" stroke-width="1.3" fill="none"/>
<g transform="translate(443.59,613.30)"><rect x="0" y="-51.75" width="7.66" height="51.75" fill="url(#p22)" stroke="#000" stroke-width="1.9"/></g>
<path d="M455.07 589.37V582.32M452.87 582.32h4.4" stroke="#000" stroke-width="1.3" fill="none"/>
<g transform="translate(451.25,613.30)"><rect x="0" y="-23.53" width="7.66" height="23.53" fill="url(#p28)" stroke="#000" stroke-width="1.9"/></g>
<path d="M478.04 587.23V581.40M475.84 581.40h4.4" stroke="#000" stroke-width="1.3" fill="none"/>
<g transform="translate(474.21,613.30)"><rect x="0" y="-25.67" width="7.66" height="25.67" fill="url(#p22)" stroke="#000" stroke-width="1.9"/></g>
<path d="M485.69 599.50V593.36M483.49 593.36h4.4" stroke="#000" stroke-width="1.3" fill="none"/>
<g transform="translate(481.86,613.30)"><rect x="0" y="-13.40" width="7.66" height="13.40" fill="url(#p28)" stroke="#000" stroke-width="1.9"/></g>
<line x1="305.80" y1="489.85" x2="305.80" y2="614.05" stroke="#000" stroke-width="2.0"/>
<line x1="305.80" y1="613.30" x2="489.82" y2="613.30" stroke="#000" stroke-width="1.5"/>
<line x1="300.80" y1="613.30" x2="305.80" y2="613.30" stroke="#000" stroke-width="1.6"/>
<text transform="translate(300.40,617.80) scale(0.95,1)" font-size="12.7"  text-anchor="end"  stroke="#000" stroke-width="0.12">0</text>
<line x1="300.80" y1="582.62" x2="305.80" y2="582.62" stroke="#000" stroke-width="1.6"/>
<text transform="translate(300.40,587.12) scale(0.95,1)" font-size="12.7"  text-anchor="end"  stroke="#000" stroke-width="0.12">10</text>
<line x1="300.80" y1="551.95" x2="305.80" y2="551.95" stroke="#000" stroke-width="1.6"/>
<text transform="translate(300.40,556.45) scale(0.95,1)" font-size="12.7"  text-anchor="end"  stroke="#000" stroke-width="0.12">20</text>
<line x1="300.80" y1="521.27" x2="305.80" y2="521.27" stroke="#000" stroke-width="1.6"/>
<text transform="translate(300.40,525.77) scale(0.95,1)" font-size="12.7"  text-anchor="end"  stroke="#000" stroke-width="0.12">30</text>
<line x1="300.80" y1="490.60" x2="305.80" y2="490.60" stroke="#000" stroke-width="1.6"/>
<text transform="translate(300.40,495.10) scale(0.95,1)" font-size="12.7"  text-anchor="end"  stroke="#000" stroke-width="0.12">40</text>
<line x1="321.11" y1="613.30" x2="321.11" y2="617.30" stroke="#000" stroke-width="1.5"/>
<text transform="translate(323.91,624.90) rotate(-45) scale(1.03,1)" font-size="11.9" font-weight="bold" text-anchor="end" stroke="#000" stroke-width="0.15">undifferentiated</text>
<line x1="351.73" y1="613.30" x2="351.73" y2="617.30" stroke="#000" stroke-width="1.5"/>
<text transform="translate(354.53,624.90) rotate(-45) scale(1.00116,1)" font-size="11.9" font-weight="bold" text-anchor="end" stroke="#000" stroke-width="0.15">CD34+CD45-</text>
<line x1="382.35" y1="613.30" x2="382.35" y2="617.30" stroke="#000" stroke-width="1.5"/>
<text transform="translate(385.15,624.90) rotate(-45) scale(1.00116,1)" font-size="11.9" font-weight="bold" text-anchor="end" stroke="#000" stroke-width="0.15">CD34+CD45+</text>
<line x1="412.97" y1="613.30" x2="412.97" y2="617.30" stroke="#000" stroke-width="1.5"/>
<text transform="translate(415.77,624.90) rotate(-45) scale(1.00116,1)" font-size="11.9" font-weight="bold" text-anchor="end" stroke="#000" stroke-width="0.15">CD34-CD45+</text>
<line x1="443.59" y1="613.30" x2="443.59" y2="617.30" stroke="#000" stroke-width="1.5"/>
<text transform="translate(446.39,624.90) rotate(-45) scale(1.00116,1)" font-size="11.9" font-weight="bold" text-anchor="end" stroke="#000" stroke-width="0.15">CD15-CD33+</text>
<line x1="474.21" y1="613.30" x2="474.21" y2="617.30" stroke="#000" stroke-width="1.5"/>
<text transform="translate(477.01,624.90) rotate(-45) scale(1.00116,1)" font-size="11.9" font-weight="bold" text-anchor="end" stroke="#000" stroke-width="0.15">CD15+CD33+</text>
<text transform="translate(397.01,474.90) scale(0.965,1)" font-size="14.0" font-weight="bold" text-anchor="middle"  stroke="#000" stroke-width="0.3">AML1/RUNX1</text>
<text transform="translate(277.50,550.85) rotate(-90) scale(1.035,1)" font-size="11.55" font-weight="bold" text-anchor="middle"  stroke="#000" stroke-width="0.3">Relative expression</text>
<g transform="translate(557.60,613.30)"><rect x="0" y="-2.03" width="7.60" height="2.03" fill="url(#p0)" stroke="#000" stroke-width="1.9"/></g>
<path d="M599.40 539.79V527.18M597.20 527.18h4.4" stroke="#000" stroke-width="1.3" fill="none"/>
<g transform="translate(595.60,613.30)"><rect x="0" y="-73.11" width="7.60" height="73.11" fill="url(#p18)" stroke="#000" stroke-width="1.9"/></g>
<path d="M607.00 564.29V559.93M604.80 559.93h4.4" stroke="#000" stroke-width="1.3" fill="none"/>
<g transform="translate(603.20,613.30)"><rect x="0" y="-48.61" width="7.60" height="48.61" fill="url(#p22)" stroke="#000" stroke-width="1.9"/></g>
<path d="M629.80 537.61V530.57M627.60 530.57h4.4" stroke="#000" stroke-width="1.3" fill="none"/>
<g transform="translate(626.00,613.30)"><rect x="0" y="-75.29" width="7.60" height="75.29" fill="url(#p18)" stroke="#000" stroke-width="1.9"/></g>
<path d="M637.40 528.63V520.63M635.20 520.63h4.4" stroke="#000" stroke-width="1.3" fill="none"/>
<g transform="translate(633.60,613.30)"><rect x="0" y="-84.27" width="7.60" height="84.27" fill="url(#p22)" stroke="#000" stroke-width="1.9"/></g>
<path d="M660.20 569.87V563.57M658.00 563.57h4.4" stroke="#000" stroke-width="1.3" fill="none"/>
<g transform="translate(656.40,613.30)"><rect x="0" y="-43.03" width="7.60" height="43.03" fill="url(#p18)" stroke="#000" stroke-width="1.9"/></g>
<path d="M667.80 593.16V590.74M665.60 590.74h4.4" stroke="#000" stroke-width="1.3" fill="none"/>
<g transform="translate(664.00,613.30)"><rect x="0" y="-19.74" width="7.60" height="19.74" fill="url(#p22)" stroke="#000" stroke-width="1.9"/></g>
<path d="M698.20 571.82V568.90M696.00 568.90h4.4" stroke="#000" stroke-width="1.3" fill="none"/>
<g transform="translate(694.40,613.30)"><rect x="0" y="-41.08" width="7.60" height="41.08" fill="url(#p22)" stroke="#000" stroke-width="1.9"/></g>
<path d="M705.80 586.86V581.76M703.60 581.76h4.4" stroke="#000" stroke-width="1.3" fill="none"/>
<g transform="translate(702.00,613.30)"><rect x="0" y="-26.04" width="7.60" height="26.04" fill="url(#p28)" stroke="#000" stroke-width="1.9"/></g>
<path d="M728.60 604.81V602.63M726.40 602.63h4.4" stroke="#000" stroke-width="1.3" fill="none"/>
<g transform="translate(724.80,613.30)"><rect x="0" y="-8.09" width="7.60" height="8.09" fill="url(#p22)" stroke="#000" stroke-width="1.9"/></g>
<g transform="translate(732.40,613.30)"><rect x="0" y="-1.78" width="7.60" height="1.78" fill="url(#p28)" stroke="#000" stroke-width="1.9"/></g>
<line x1="557.60" y1="491.25" x2="557.60" y2="614.05" stroke="#000" stroke-width="2.0"/>
<line x1="557.60" y1="613.30" x2="740.30" y2="613.30" stroke="#000" stroke-width="1.5"/>
<line x1="552.60" y1="613.30" x2="557.60" y2="613.30" stroke="#000" stroke-width="1.6"/>
<text transform="translate(552.20,617.80) scale(0.95,1)" font-size="12.7"  text-anchor="end"  stroke="#000" stroke-width="0.12">0</text>
<line x1="552.60" y1="589.04" x2="557.60" y2="589.04" stroke="#000" stroke-width="1.6"/>
<text transform="translate(552.20,593.54) scale(0.95,1)" font-size="12.7"  text-anchor="end"  stroke="#000" stroke-width="0.12">10</text>
<line x1="552.60" y1="564.78" x2="557.60" y2="564.78" stroke="#000" stroke-width="1.6"/>
<text transform="translate(552.20,569.28) scale(0.95,1)" font-size="12.7"  text-anchor="end"  stroke="#000" stroke-width="0.12">20</text>
<line x1="552.60" y1="540.52" x2="557.60" y2="540.52" stroke="#000" stroke-width="1.6"/>
<text transform="translate(552.20,545.02) scale(0.95,1)" font-size="12.7"  text-anchor="end"  stroke="#000" stroke-width="0.12">30</text>
<line x1="552.60" y1="516.26" x2="557.60" y2="516.26" stroke="#000" stroke-width="1.6"/>
<text transform="translate(552.20,520.76) scale(0.95,1)" font-size="12.7"  text-anchor="end"  stroke="#000" stroke-width="0.12">40</text>
<line x1="552.60" y1="492.00" x2="557.60" y2="492.00" stroke="#000" stroke-width="1.6"/>
<text transform="translate(552.20,496.50) scale(0.95,1)" font-size="12.7"  text-anchor="end"  stroke="#000" stroke-width="0.12">50</text>
<line x1="572.80" y1="613.30" x2="572.80" y2="617.30" stroke="#000" stroke-width="1.5"/>
<text transform="translate(575.60,624.90) rotate(-45) scale(1.03,1)" font-size="11.9" font-weight="bold" text-anchor="end" stroke="#000" stroke-width="0.15">undifferentiated</text>
<line x1="603.20" y1="613.30" x2="603.20" y2="617.30" stroke="#000" stroke-width="1.5"/>
<text transform="translate(606.00,624.90) rotate(-45) scale(1.00116,1)" font-size="11.9" font-weight="bold" text-anchor="end" stroke="#000" stroke-width="0.15">CD34+CD45-</text>
<line x1="633.60" y1="613.30" x2="633.60" y2="617.30" stroke="#000" stroke-width="1.5"/>
<text transform="translate(636.40,624.90) rotate(-45) scale(1.00116,1)" font-size="11.9" font-weight="bold" text-anchor="end" stroke="#000" stroke-width="0.15">CD34+CD45+</text>
<line x1="664.00" y1="613.30" x2="664.00" y2="617.30" stroke="#000" stroke-width="1.5"/>
<text transform="translate(666.80,624.90) rotate(-45) scale(1.00116,1)" font-size="11.9" font-weight="bold" text-anchor="end" stroke="#000" stroke-width="0.15">CD34-CD45+</text>
<line x1="694.40" y1="613.30" x2="694.40" y2="617.30" stroke="#000" stroke-width="1.5"/>
<text transform="translate(697.20,624.90) rotate(-45) scale(1.00116,1)" font-size="11.9" font-weight="bold" text-anchor="end" stroke="#000" stroke-width="0.15">CD15-CD33+</text>
<line x1="724.80" y1="613.30" x2="724.80" y2="617.30" stroke="#000" stroke-width="1.5"/>
<text transform="translate(727.60,624.90) rotate(-45) scale(1.00116,1)" font-size="11.9" font-weight="bold" text-anchor="end" stroke="#000" stroke-width="0.15">CD15+CD33+</text>
<text transform="translate(648.15,476.30) scale(0.965,1)" font-size="14.0" font-weight="bold" text-anchor="middle"  stroke="#000" stroke-width="0.3">SCL/TAL1</text>
<text transform="translate(530.70,551.05) rotate(-90) scale(1.018,1)" font-size="11.55" font-weight="bold" text-anchor="middle"  stroke="#000" stroke-width="0.3">Relative expression</text>
<g transform="translate(65.00,852.20)"><rect x="0" y="-0.22" width="7.66" height="0.30" fill="url(#p0)" stroke="#000" stroke-width="1.9"/></g>
<path d="M107.14 839.99V838.64M104.94 838.64h4.4" stroke="#000" stroke-width="1.3" fill="none"/>
<g transform="translate(103.31,852.20)"><rect x="0" y="-11.81" width="7.66" height="11.81" fill="url(#p18)" stroke="#000" stroke-width="1.9"/></g>
<path d="M137.79 762.81V751.09M135.59 751.09h4.4" stroke="#000" stroke-width="1.3" fill="none"/>
<g transform="translate(133.96,852.20)"><rect x="0" y="-88.99" width="7.66" height="88.99" fill="url(#p18)" stroke="#000" stroke-width="1.9"/></g>
<path d="M145.46 798.56V794.87M143.26 794.87h4.4" stroke="#000" stroke-width="1.3" fill="none"/>
<g transform="translate(141.62,852.20)"><rect x="0" y="-53.24" width="7.66" height="53.24" fill="url(#p22)" stroke="#000" stroke-width="1.9"/></g>
<path d="M168.44 797.33V788.08M166.24 788.08h4.4" stroke="#000" stroke-width="1.3" fill="none"/>
<g transform="translate(164.61,852.20)"><rect x="0" y="-54.47" width="7.66" height="54.47" fill="url(#p18)" stroke="#000" stroke-width="1.9"/></g>
<path d="M176.11 778.84V772.67M173.91 772.67h4.4" stroke="#000" stroke-width="1.3" fill="none"/>
<g transform="translate(172.27,852.20)"><rect x="0" y="-72.96" width="7.66" height="72.96" fill="url(#p22)" stroke="#000" stroke-width="1.9"/></g>
<path d="M206.76 794.87V788.08M204.56 788.08h4.4" stroke="#000" stroke-width="1.3" fill="none"/>
<g transform="translate(202.92,852.20)"><rect x="0" y="-56.93" width="7.66" height="56.93" fill="url(#p22)" stroke="#000" stroke-width="1.9"/></g>
<path d="M214.42 757.88V746.16M212.22 746.16h4.4" stroke="#000" stroke-width="1.3" fill="none"/>
<g transform="translate(210.59,852.20)"><rect x="0" y="-93.92" width="7.66" height="93.92" fill="url(#p28)" stroke="#000" stroke-width="1.9"/></g>
<path d="M237.41 807.50V802.26M235.21 802.26h4.4" stroke="#000" stroke-width="1.3" fill="none"/>
<g transform="translate(233.57,852.20)"><rect x="0" y="-44.30" width="7.66" height="44.30" fill="url(#p22)" stroke="#000" stroke-width="1.9"/></g>
<path d="M245.07 794.87V787.16M242.87 787.16h4.4" stroke="#000" stroke-width="1.3" fill="none"/>
<g transform="translate(241.24,852.20)"><rect x="0" y="-56.93" width="7.66" height="56.93" fill="url(#p28)" stroke="#000" stroke-width="1.9"/></g>
<line x1="65.00" y1="728.15" x2="65.00" y2="852.95" stroke="#000" stroke-width="2.0"/>
<line x1="65.00" y1="852.20" x2="249.20" y2="852.20" stroke="#000" stroke-width="1.5"/>
<line x1="60.00" y1="852.20" x2="65.00" y2="852.20" stroke="#000" stroke-width="1.6"/>
<text transform="translate(59.60,856.70) scale(0.95,1)" font-size="12.7"  text-anchor="end"  stroke="#000" stroke-width="0.12">0</text>
<line x1="60.00" y1="821.38" x2="65.00" y2="821.38" stroke="#000" stroke-width="1.6"/>
<text transform="translate(59.60,825.88) scale(0.95,1)" font-size="12.7"  text-anchor="end"  stroke="#000" stroke-width="0.12">50</text>
<line x1="60.00" y1="790.55" x2="65.00" y2="790.55" stroke="#000" stroke-width="1.6"/>
<text transform="translate(59.60,795.05) scale(0.95,1)" font-size="12.7"  text-anchor="end"  stroke="#000" stroke-width="0.12">100</text>
<line x1="60.00" y1="759.73" x2="65.00" y2="759.73" stroke="#000" stroke-width="1.6"/>
<text transform="translate(59.60,764.23) scale(0.95,1)" font-size="12.7"  text-anchor="end"  stroke="#000" stroke-width="0.12">150</text>
<line x1="60.00" y1="728.90" x2="65.00" y2="728.90" stroke="#000" stroke-width="1.6"/>
<text transform="translate(59.60,733.40) scale(0.95,1)" font-size="12.7"  text-anchor="end"  stroke="#000" stroke-width="0.12">200</text>
<line x1="80.33" y1="852.20" x2="80.33" y2="856.20" stroke="#000" stroke-width="1.5"/>
<text transform="translate(83.12,863.80) rotate(-45) scale(1.03,1)" font-size="11.9" font-weight="bold" text-anchor="end" stroke="#000" stroke-width="0.15">undifferentiated</text>
<line x1="110.98" y1="852.20" x2="110.98" y2="856.20" stroke="#000" stroke-width="1.5"/>
<text transform="translate(113.78,863.80) rotate(-45) scale(1.00116,1)" font-size="11.9" font-weight="bold" text-anchor="end" stroke="#000" stroke-width="0.15">CD34+CD45-</text>
<line x1="141.62" y1="852.20" x2="141.62" y2="856.20" stroke="#000" stroke-width="1.5"/>
<text transform="translate(144.43,863.80) rotate(-45) scale(1.00116,1)" font-size="11.9" font-weight="bold" text-anchor="end" stroke="#000" stroke-width="0.15">CD34+CD45+</text>
<line x1="172.27" y1="852.20" x2="172.27" y2="856.20" stroke="#000" stroke-width="1.5"/>
<text transform="translate(175.07,863.80) rotate(-45) scale(1.00116,1)" font-size="11.9" font-weight="bold" text-anchor="end" stroke="#000" stroke-width="0.15">CD34-CD45+</text>
<line x1="202.92" y1="852.20" x2="202.92" y2="856.20" stroke="#000" stroke-width="1.5"/>
<text transform="translate(205.72,863.80) rotate(-45) scale(1.00116,1)" font-size="11.9" font-weight="bold" text-anchor="end" stroke="#000" stroke-width="0.15">CD15-CD33+</text>
<line x1="233.57" y1="852.20" x2="233.57" y2="856.20" stroke="#000" stroke-width="1.5"/>
<text transform="translate(236.38,863.80) rotate(-45) scale(1.00116,1)" font-size="11.9" font-weight="bold" text-anchor="end" stroke="#000" stroke-width="0.15">CD15+CD33+</text>
<text transform="translate(156.30,713.20) scale(0.965,1)" font-size="14.0" font-weight="bold" text-anchor="middle"  stroke="#000" stroke-width="0.3">PU.1</text>
<text transform="translate(35.60,789.25) rotate(-90) scale(1.04,1)" font-size="11.55" font-weight="bold" text-anchor="middle"  stroke="#000" stroke-width="0.3">Relative expression</text>
<g transform="translate(305.90,852.30)"><rect x="0" y="-30.36" width="7.65" height="30.36" fill="url(#p0)" stroke="#000" stroke-width="1.9"/></g>
<path d="M347.97 813.85V811.39M345.77 811.39h4.4" stroke="#000" stroke-width="1.3" fill="none"/>
<g transform="translate(344.15,852.30)"><rect x="0" y="-38.05" width="7.65" height="38.05" fill="url(#p18)" stroke="#000" stroke-width="1.9"/></g>
<path d="M355.62 835.69V834.15M353.43 834.15h4.4" stroke="#000" stroke-width="1.3" fill="none"/>
<g transform="translate(351.80,852.30)"><rect x="0" y="-16.21" width="7.65" height="16.21" fill="url(#p22)" stroke="#000" stroke-width="1.9"/></g>
<path d="M378.57 756.94V748.32M376.37 748.32h4.4" stroke="#000" stroke-width="1.3" fill="none"/>
<g transform="translate(374.75,852.30)"><rect x="0" y="-94.96" width="7.65" height="94.96" fill="url(#p18)" stroke="#000" stroke-width="1.9"/></g>
<path d="M386.22 761.55V749.55M384.02 749.55h4.4" stroke="#000" stroke-width="1.3" fill="none"/>
<g transform="translate(382.40,852.30)"><rect x="0" y="-90.35" width="7.65" height="90.35" fill="url(#p22)" stroke="#000" stroke-width="1.9"/></g>
<path d="M409.17 804.00V799.70M406.97 799.70h4.4" stroke="#000" stroke-width="1.3" fill="none"/>
<g transform="translate(405.35,852.30)"><rect x="0" y="-47.90" width="7.65" height="47.90" fill="url(#p18)" stroke="#000" stroke-width="1.9"/></g>
<path d="M416.82 793.85V763.09M414.62 763.09h4.4" stroke="#000" stroke-width="1.3" fill="none"/>
<g transform="translate(413.00,852.30)"><rect x="0" y="-58.05" width="7.65" height="58.05" fill="url(#p22)" stroke="#000" stroke-width="1.9"/></g>
<path d="M447.42 797.24V776.32M445.22 776.32h4.4" stroke="#000" stroke-width="1.3" fill="none"/>
<g transform="translate(443.60,852.30)"><rect x="0" y="-54.66" width="7.65" height="54.66" fill="url(#p22)" stroke="#000" stroke-width="1.9"/></g>
<path d="M455.07 823.69V817.54M452.87 817.54h4.4" stroke="#000" stroke-width="1.3" fill="none"/>
<g transform="translate(451.25,852.30)"><rect x="0" y="-28.21" width="7.65" height="28.21" fill="url(#p28)" stroke="#000" stroke-width="1.9"/></g>
<path d="M478.02 795.39V758.47M475.82 758.47h4.4" stroke="#000" stroke-width="1.3" fill="none"/>
<g transform="translate(474.20,852.30)"><rect x="0" y="-56.51" width="7.65" height="56.51" fill="url(#p22)" stroke="#000" stroke-width="1.9"/></g>
<path d="M485.67 826.46V817.85M483.47 817.85h4.4" stroke="#000" stroke-width="1.3" fill="none"/>
<g transform="translate(481.85,852.30)"><rect x="0" y="-25.44" width="7.65" height="25.44" fill="url(#p28)" stroke="#000" stroke-width="1.9"/></g>
<line x1="305.90" y1="728.50" x2="305.90" y2="853.05" stroke="#000" stroke-width="2.0"/>
<line x1="305.90" y1="852.30" x2="489.80" y2="852.30" stroke="#000" stroke-width="1.5"/>
<line x1="300.90" y1="852.30" x2="305.90" y2="852.30" stroke="#000" stroke-width="1.6"/>
<text transform="translate(300.50,856.80) scale(0.95,1)" font-size="12.7"  text-anchor="end"  stroke="#000" stroke-width="0.12">0</text>
<line x1="300.90" y1="821.54" x2="305.90" y2="821.54" stroke="#000" stroke-width="1.6"/>
<text transform="translate(300.50,826.04) scale(0.95,1)" font-size="12.7"  text-anchor="end"  stroke="#000" stroke-width="0.12">1</text>
<line x1="300.90" y1="790.77" x2="305.90" y2="790.77" stroke="#000" stroke-width="1.6"/>
<text transform="translate(300.50,795.27) scale(0.95,1)" font-size="12.7"  text-anchor="end"  stroke="#000" stroke-width="0.12">2</text>
<line x1="300.90" y1="760.01" x2="305.90" y2="760.01" stroke="#000" stroke-width="1.6"/>
<text transform="translate(300.50,764.51) scale(0.95,1)" font-size="12.7"  text-anchor="end"  stroke="#000" stroke-width="0.12">3</text>
<line x1="300.90" y1="729.25" x2="305.90" y2="729.25" stroke="#000" stroke-width="1.6"/>
<text transform="translate(300.50,733.75) scale(0.95,1)" font-size="12.7"  text-anchor="end"  stroke="#000" stroke-width="0.12">4</text>
<line x1="321.20" y1="852.30" x2="321.20" y2="856.30" stroke="#000" stroke-width="1.5"/>
<text transform="translate(324.00,863.90) rotate(-45) scale(1.03,1)" font-size="11.9" font-weight="bold" text-anchor="end" stroke="#000" stroke-width="0.15">undifferentiated</text>
<line x1="351.80" y1="852.30" x2="351.80" y2="856.30" stroke="#000" stroke-width="1.5"/>
<text transform="translate(354.60,863.90) rotate(-45) scale(1.00116,1)" font-size="11.9" font-weight="bold" text-anchor="end" stroke="#000" stroke-width="0.15">CD34+CD45-</text>
<line x1="382.40" y1="852.30" x2="382.40" y2="856.30" stroke="#000" stroke-width="1.5"/>
<text transform="translate(385.20,863.90) rotate(-45) scale(1.00116,1)" font-size="11.9" font-weight="bold" text-anchor="end" stroke="#000" stroke-width="0.15">CD34+CD45+</text>
<line x1="413.00" y1="852.30" x2="413.00" y2="856.30" stroke="#000" stroke-width="1.5"/>
<text transform="translate(415.80,863.90) rotate(-45) scale(1.00116,1)" font-size="11.9" font-weight="bold" text-anchor="end" stroke="#000" stroke-width="0.15">CD34-CD45+</text>
<line x1="443.60" y1="852.30" x2="443.60" y2="856.30" stroke="#000" stroke-width="1.5"/>
<text transform="translate(446.40,863.90) rotate(-45) scale(1.00116,1)" font-size="11.9" font-weight="bold" text-anchor="end" stroke="#000" stroke-width="0.15">CD15-CD33+</text>
<line x1="474.20" y1="852.30" x2="474.20" y2="856.30" stroke="#000" stroke-width="1.5"/>
<text transform="translate(477.00,863.90) rotate(-45) scale(1.00116,1)" font-size="11.9" font-weight="bold" text-anchor="end" stroke="#000" stroke-width="0.15">CD15+CD33+</text>
<text transform="translate(397.05,713.55) scale(0.965,1)" font-size="14.0" font-weight="bold" text-anchor="middle"  stroke="#000" stroke-width="0.3">C/EBPα</text>
<text transform="translate(283.00,789.67) rotate(-90) scale(1.027,1)" font-size="11.55" font-weight="bold" text-anchor="middle"  stroke="#000" stroke-width="0.3">Relative expression</text>
<g transform="translate(550.65,852.00)"><rect x="0" y="-5.70" width="7.60" height="5.70" fill="url(#p0)" stroke="#000" stroke-width="1.9"/></g>
<path d="M721.65 817.23V805.03M719.45 805.03h4.4" stroke="#000" stroke-width="1.3" fill="none"/>
<g transform="translate(717.85,852.00)"><rect x="0" y="-34.37" width="7.60" height="34.37" fill="url(#p22)" stroke="#000" stroke-width="1.9"/></g>
<path d="M729.25 772.09V753.79M727.05 753.79h4.4" stroke="#000" stroke-width="1.3" fill="none"/>
<g transform="translate(725.45,852.00)"><rect x="0" y="-79.51" width="7.60" height="79.51" fill="url(#p28)" stroke="#000" stroke-width="1.9"/></g>
<line x1="550.65" y1="729.25" x2="550.65" y2="852.75" stroke="#000" stroke-width="2.0"/>
<line x1="550.65" y1="852.00" x2="733.35" y2="852.00" stroke="#000" stroke-width="1.5"/>
<line x1="545.65" y1="852.00" x2="550.65" y2="852.00" stroke="#000" stroke-width="1.6"/>
<text transform="translate(545.25,856.50) scale(0.95,1)" font-size="12.7"  text-anchor="end"  stroke="#000" stroke-width="0.12">0</text>
<line x1="545.65" y1="821.50" x2="550.65" y2="821.50" stroke="#000" stroke-width="1.6"/>
<text transform="translate(545.25,826.00) scale(0.95,1)" font-size="12.7"  text-anchor="end"  stroke="#000" stroke-width="0.12">5</text>
<line x1="545.65" y1="791.00" x2="550.65" y2="791.00" stroke="#000" stroke-width="1.6"/>
<text transform="translate(545.25,795.50) scale(0.95,1)" font-size="12.7"  text-anchor="end"  stroke="#000" stroke-width="0.12">10</text>
<line x1="545.65" y1="760.50" x2="550.65" y2="760.50" stroke="#000" stroke-width="1.6"/>
<text transform="translate(545.25,765.00) scale(0.95,1)" font-size="12.7"  text-anchor="end"  stroke="#000" stroke-width="0.12">15</text>
<line x1="545.65" y1="730.00" x2="550.65" y2="730.00" stroke="#000" stroke-width="1.6"/>
<text transform="translate(545.25,734.50) scale(0.95,1)" font-size="12.7"  text-anchor="end"  stroke="#000" stroke-width="0.12">20</text>
<line x1="565.85" y1="852.00" x2="565.85" y2="856.00" stroke="#000" stroke-width="1.5"/>
<text transform="translate(568.65,863.60) rotate(-45) scale(1.03,1)" font-size="11.9" font-weight="bold" text-anchor="end" stroke="#000" stroke-width="0.15">undifferentiated</text>
<line x1="596.25" y1="852.00" x2="596.25" y2="856.00" stroke="#000" stroke-width="1.5"/>
<text transform="translate(599.05,863.60) rotate(-45) scale(1.00116,1)" font-size="11.9" font-weight="bold" text-anchor="end" stroke="#000" stroke-width="0.15">CD34+CD45-</text>
<line x1="626.65" y1="852.00" x2="626.65" y2="856.00" stroke="#000" stroke-width="1.5"/>
<text transform="translate(629.45,863.60) rotate(-45) scale(1.00116,1)" font-size="11.9" font-weight="bold" text-anchor="end" stroke="#000" stroke-width="0.15">CD34+CD45+</text>
<line x1="657.05" y1="852.00" x2="657.05" y2="856.00" stroke="#000" stroke-width="1.5"/>
<text transform="translate(659.85,863.60) rotate(-45) scale(1.00116,1)" font-size="11.9" font-weight="bold" text-anchor="end" stroke="#000" stroke-width="0.15">CD34-CD45+</text>
<line x1="687.45" y1="852.00" x2="687.45" y2="856.00" stroke="#000" stroke-width="1.5"/>
<text transform="translate(690.25,863.60) rotate(-45) scale(1.00116,1)" font-size="11.9" font-weight="bold" text-anchor="end" stroke="#000" stroke-width="0.15">CD15-CD33+</text>
<line x1="717.85" y1="852.00" x2="717.85" y2="856.00" stroke="#000" stroke-width="1.5"/>
<text transform="translate(720.65,863.60) rotate(-45) scale(1.00116,1)" font-size="11.9" font-weight="bold" text-anchor="end" stroke="#000" stroke-width="0.15">CD15+CD33+</text>
<text transform="translate(641.20,714.30) scale(0.965,1)" font-size="14.0" font-weight="bold" text-anchor="middle"  stroke="#000" stroke-width="0.3">C/EBPε</text>
<text transform="translate(522.85,790.25) rotate(-90) scale(1.02,1)" font-size="11.55" font-weight="bold" text-anchor="middle"  stroke="#000" stroke-width="0.3">Relative expression</text>
<rect x="751.80" y="528.10" width="12.9" height="9" fill="url(#p0)" stroke="#000" stroke-width="1.5"/>
<text transform="translate(772.10,536.70) scale(1.12,1)" font-size="10.4"  text-anchor="start"  stroke="#000" stroke-width="0.12">d0</text>
<rect x="751.80" y="542.60" width="12.9" height="9" fill="url(#p18)" stroke="#000" stroke-width="1.5"/>
<text transform="translate(772.10,551.20) scale(1.12,1)" font-size="10.4"  text-anchor="start"  stroke="#000" stroke-width="0.12">d18</text>
<rect x="751.80" y="557.10" width="12.9" height="9" fill="url(#p22)" stroke="#000" stroke-width="1.5"/>
<text transform="translate(772.10,565.70) scale(1.12,1)" font-size="10.4"  text-anchor="start"  stroke="#000" stroke-width="0.12">d22</text>
<rect x="751.80" y="571.60" width="12.9" height="9" fill="#fff"/>
<rect x="752.40" y="571.60" width="1.50" height="9" fill="#8a8a8a"/>
<rect x="755.40" y="571.60" width="0.80" height="9" fill="#222"/>
<rect x="758.10" y="571.60" width="0.80" height="9" fill="#222"/>
<rect x="760.80" y="571.60" width="0.80" height="9" fill="#222"/>
<rect x="763.10" y="571.60" width="1.50" height="9" fill="#8a8a8a"/>
<rect x="751.80" y="571.60" width="12.9" height="9" fill="none" stroke="#000" stroke-width="1.5"/>
<text transform="translate(772.10,580.20) scale(1.12,1)" font-size="10.4"  text-anchor="start"  stroke="#000" stroke-width="0.12">d28</text>
<rect x="751.80" y="767.30" width="13.4" height="9" fill="url(#p0)" stroke="#000" stroke-width="1.5"/>
<text transform="translate(772.10,775.90) scale(1.12,1)" font-size="10.4"  text-anchor="start"  stroke="#000" stroke-width="0.12">d0</text>
<rect x="751.80" y="781.60" width="13.4" height="9" fill="url(#p18)" stroke="#000" stroke-width="1.5"/>
<text transform="translate(772.10,790.20) scale(1.12,1)" font-size="10.4"  text-anchor="start"  stroke="#000" stroke-width="0.12">d18</text>
<rect x="751.80" y="795.90" width="13.4" height="9" fill="url(#p22)" stroke="#000" stroke-width="1.5"/>
<text transform="translate(772.10,804.50) scale(1.12,1)" font-size="10.4"  text-anchor="start"  stroke="#000" stroke-width="0.12">d22</text>
<rect x="751.80" y="810.20" width="13.4" height="9" fill="#fff"/>
<rect x="752.40" y="810.20" width="1.50" height="9" fill="#8a8a8a"/>
<rect x="755.40" y="810.20" width="0.80" height="9" fill="#222"/>
<rect x="758.10" y="810.20" width="0.80" height="9" fill="#222"/>
<rect x="760.80" y="810.20" width="0.80" height="9" fill="#222"/>
<rect x="763.10" y="810.20" width="1.50" height="9" fill="#8a8a8a"/>
<rect x="751.80" y="810.20" width="13.4" height="9" fill="none" stroke="#000" stroke-width="1.5"/>
<text transform="translate(772.10,818.80) scale(1.12,1)" font-size="10.4"  text-anchor="start"  stroke="#000" stroke-width="0.12">d28</text>
<text transform="translate(7.80,24.75) scale(1.02,1)" font-size="23.5" font-weight="bold" text-anchor="start" stroke="#000" stroke-width="0.5">A</text>
<text transform="translate(8.60,469.30) scale(0.95,1)" font-size="23.5" font-weight="bold" text-anchor="start" stroke="#000" stroke-width="0.5">B</text>
</svg>
</body></html>
